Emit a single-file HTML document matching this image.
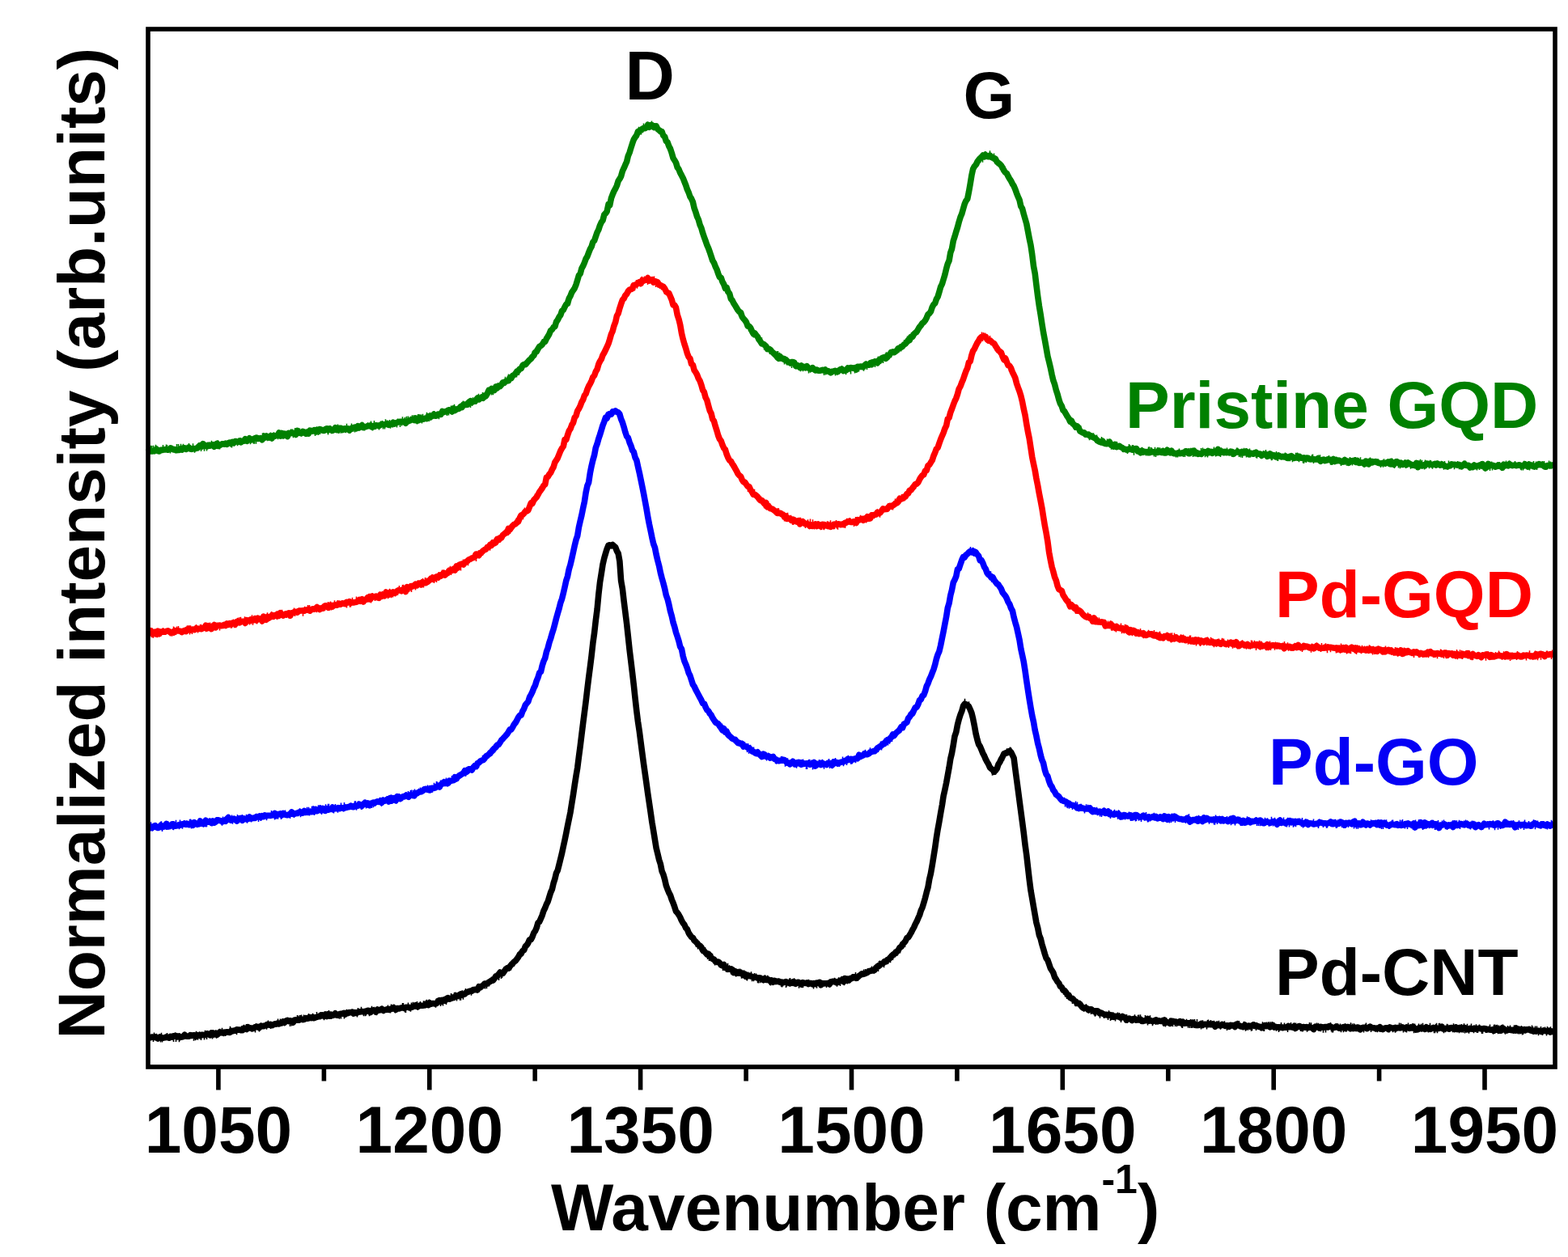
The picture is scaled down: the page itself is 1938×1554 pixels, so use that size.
<!DOCTYPE html>
<html><head><meta charset="utf-8"><title>Raman spectra</title>
<style>
html,body{margin:0;padding:0;background:#fff;}
svg{display:block;}
.t{font-family:"Liberation Sans",Arial,sans-serif;font-weight:bold;font-size:82px;}
</style></head><body>
<svg width="1938" height="1554" viewBox="0 0 1938 1554">
<rect x="0" y="0" width="1938" height="1554" fill="#fff"/>
<path d="M183.0,1282.6 184.7,1283.0 186.5,1282.5 188.2,1282.0 190.0,1282.4 191.7,1281.9 193.4,1282.9 195.2,1284.0 196.9,1282.4 198.7,1282.2 200.4,1283.2 202.1,1283.1 203.9,1282.8 205.6,1281.9 207.4,1282.6 209.1,1283.2 210.8,1281.3 212.6,1282.1 214.3,1280.7 216.1,1281.2 217.8,1280.6 219.5,1281.9 221.3,1280.9 223.0,1282.2 224.8,1282.0 226.5,1281.6 228.2,1279.3 230.0,1281.0 231.7,1281.3 233.5,1281.3 235.2,1279.7 236.9,1280.5 238.7,1279.9 240.4,1279.9 242.2,1281.4 243.9,1279.5 245.6,1280.1 247.4,1280.7 249.1,1279.2 250.9,1279.4 252.6,1279.5 254.3,1279.2 256.1,1277.9 257.8,1278.8 259.6,1279.8 261.3,1276.9 263.0,1278.9 264.8,1278.0 266.5,1277.1 268.3,1279.2 270.0,1277.9 271.7,1275.9 273.5,1276.8 275.2,1277.0 277.0,1276.1 278.7,1276.6 280.4,1275.7 282.2,1276.1 283.9,1276.5 285.7,1274.3 287.4,1274.9 289.1,1274.0 290.9,1274.3 292.6,1272.8 294.4,1273.1 296.1,1273.1 297.8,1273.8 299.6,1273.8 301.3,1271.3 303.1,1271.5 304.8,1272.5 306.5,1269.8 308.3,1270.9 310.0,1270.9 311.8,1271.9 313.5,1271.1 315.2,1269.8 317.0,1269.5 318.7,1269.3 320.5,1270.6 322.2,1268.6 323.9,1268.4 325.7,1268.7 327.4,1267.9 329.2,1267.6 330.9,1266.4 332.6,1267.1 334.4,1266.4 336.1,1267.6 337.9,1266.8 339.6,1265.9 341.3,1266.2 343.1,1265.0 344.8,1266.0 346.6,1264.7 348.3,1264.9 350.0,1262.9 351.8,1264.1 353.5,1262.0 355.3,1261.4 357.0,1262.6 358.7,1261.8 360.5,1262.5 362.2,1264.0 364.0,1261.0 365.7,1260.9 367.4,1261.3 369.2,1261.3 370.9,1260.4 372.7,1260.1 374.4,1260.6 376.1,1260.2 377.9,1258.5 379.6,1259.1 381.4,1258.9 383.1,1257.7 384.8,1258.6 386.6,1257.3 388.3,1258.7 390.1,1257.8 391.8,1257.4 393.5,1256.6 395.3,1256.7 397.0,1254.8 398.8,1255.3 400.5,1256.4 402.2,1254.0 404.0,1256.4 405.7,1253.8 407.5,1255.9 409.2,1254.2 410.9,1255.5 412.7,1254.7 414.4,1252.9 416.2,1255.2 417.9,1255.2 419.6,1253.7 421.4,1253.3 423.1,1253.2 424.9,1252.3 426.6,1254.0 428.3,1252.3 430.1,1252.6 431.8,1251.7 433.6,1251.7 435.3,1251.0 437.0,1253.1 438.8,1251.7 440.5,1252.5 442.3,1251.5 444.0,1250.7 445.7,1250.9 447.5,1250.5 449.2,1250.9 451.0,1250.4 452.7,1250.3 454.4,1249.2 456.2,1249.5 457.9,1251.6 459.7,1249.3 461.4,1248.9 463.1,1249.9 464.9,1250.8 466.6,1248.0 468.4,1249.0 470.1,1248.5 471.8,1247.3 473.6,1249.4 475.3,1248.5 477.1,1248.4 478.8,1247.5 480.5,1248.4 482.3,1247.4 484.0,1247.5 485.8,1246.5 487.5,1246.2 489.2,1248.3 491.0,1246.5 492.7,1247.0 494.5,1246.5 496.2,1245.9 497.9,1245.7 499.7,1246.5 501.4,1245.4 503.2,1245.3 504.9,1245.2 506.6,1246.0 508.4,1245.3 510.1,1244.8 511.9,1243.7 513.6,1242.7 515.3,1244.5 517.1,1244.3 518.8,1243.0 520.6,1243.3 522.3,1243.2 524.0,1243.0 525.8,1242.7 527.5,1241.2 529.3,1242.6 531.0,1239.8 532.7,1241.3 534.5,1240.6 536.2,1240.6 538.0,1241.1 539.7,1240.4 541.4,1237.6 543.2,1236.7 544.9,1238.5 546.7,1236.4 548.4,1236.9 550.1,1237.2 551.9,1234.5 553.6,1233.6 555.4,1235.2 557.1,1234.5 558.8,1233.7 560.6,1233.4 562.3,1232.1 564.1,1230.9 565.8,1231.6 567.5,1230.2 569.3,1229.0 571.0,1230.3 572.8,1229.2 574.5,1228.9 576.2,1227.0 578.0,1226.6 579.7,1225.6 581.5,1225.0 583.2,1225.2 584.9,1223.6 586.7,1223.8 588.4,1223.0 590.2,1223.7 591.9,1219.8 593.6,1220.9 595.4,1219.2 597.1,1218.3 598.9,1216.1 600.6,1216.0 602.3,1216.1 604.1,1214.3 605.8,1213.4 607.6,1212.0 609.3,1212.2 611.0,1210.0 612.8,1206.8 614.5,1206.9 616.3,1204.5 618.0,1202.1 619.7,1203.2 621.5,1203.5 623.2,1200.9 625.0,1198.3 626.7,1196.9 628.4,1197.2 630.2,1194.7 631.9,1192.8 633.7,1190.9 635.4,1189.1 637.1,1187.9 638.9,1185.6 640.6,1183.2 642.4,1179.9 644.1,1179.0 645.8,1175.6 647.6,1174.7 649.3,1170.1 651.1,1168.4 652.8,1165.8 654.5,1161.7 656.3,1161.5 658.0,1158.2 659.8,1153.2 661.5,1151.0 663.2,1147.1 665.0,1140.8 666.7,1139.6 668.5,1135.4 670.2,1131.4 671.9,1126.1 673.7,1122.5 675.4,1118.0 677.2,1114.5 678.9,1108.8 680.6,1103.4 682.4,1099.4 684.1,1092.0 685.9,1086.4 687.6,1079.2 689.3,1075.9 691.1,1068.8 692.8,1061.9 694.6,1054.5 696.3,1046.5 698.0,1038.7 699.8,1030.0 701.5,1021.3 703.3,1012.4 705.0,1004.2 706.7,993.4 708.5,982.3 710.2,970.9 712.0,959.3 713.7,949.3 715.4,935.7 717.2,922.2 718.9,908.3 720.7,893.8 722.4,880.6 724.1,867.2 725.9,851.9 727.6,838.0 729.4,824.2 731.1,810.7 732.8,795.3 734.6,782.4 736.3,767.2 738.1,753.3 739.8,735.1 741.5,720.2 743.3,708.9 745.0,697.9 746.8,690.0 748.5,684.1 750.2,678.6 752.0,674.2 753.7,673.8 755.5,674.8 757.2,673.4 758.9,675.0 760.7,676.6 762.4,681.1 764.2,684.4 765.9,694.0 767.6,717.9 769.4,728.1 771.1,743.0 772.9,757.3 774.6,770.9 776.3,786.5 778.1,803.4 779.8,817.2 781.6,832.3 783.3,846.8 785.0,862.9 786.8,878.7 788.5,892.3 790.3,904.2 792.0,917.4 793.7,930.6 795.5,943.9 797.2,955.9 799.0,968.6 800.7,980.9 802.4,992.5 804.2,1004.8 805.9,1016.6 807.7,1027.3 809.4,1037.9 811.1,1048.3 812.9,1055.6 814.6,1062.9 816.4,1068.4 818.1,1076.9 819.8,1080.9 821.6,1087.1 823.3,1094.6 825.1,1099.5 826.8,1103.6 828.5,1106.8 830.3,1112.3 832.0,1116.2 833.8,1121.3 835.5,1126.6 837.2,1128.4 839.0,1131.0 840.7,1134.0 842.5,1138.2 844.2,1141.1 845.9,1143.2 847.7,1147.2 849.4,1148.8 851.2,1153.5 852.9,1156.0 854.6,1158.4 856.4,1159.4 858.1,1162.6 859.9,1164.2 861.6,1166.0 863.3,1168.1 865.1,1169.2 866.8,1171.0 868.6,1174.8 870.3,1175.7 872.0,1177.7 873.8,1180.0 875.5,1179.1 877.3,1181.5 879.0,1183.8 880.7,1185.4 882.5,1186.0 884.2,1188.6 886.0,1189.1 887.7,1189.0 889.4,1190.4 891.2,1193.0 892.9,1193.8 894.7,1192.6 896.4,1196.5 898.1,1196.8 899.9,1198.3 901.6,1197.6 903.4,1198.5 905.1,1198.6 906.8,1202.6 908.6,1200.9 910.3,1203.2 912.1,1201.8 913.8,1203.2 915.5,1202.2 917.3,1203.9 919.0,1205.7 920.8,1204.3 922.5,1206.9 924.2,1206.7 926.0,1206.0 927.7,1206.9 929.5,1207.4 931.2,1208.2 932.9,1208.2 934.7,1208.3 936.4,1209.2 938.2,1208.9 939.9,1209.0 941.6,1210.5 943.4,1211.7 945.1,1209.8 946.9,1211.5 948.6,1211.2 950.3,1211.2 952.1,1213.1 953.8,1212.1 955.6,1214.2 957.3,1212.4 959.0,1213.6 960.8,1213.3 962.5,1213.0 964.3,1214.4 966.0,1214.0 967.7,1214.8 969.5,1214.4 971.2,1213.6 973.0,1214.7 974.7,1215.0 976.4,1215.9 978.2,1214.4 979.9,1215.3 981.7,1213.9 983.4,1216.2 985.1,1214.7 986.9,1214.2 988.6,1215.8 990.4,1217.0 992.1,1214.7 993.8,1215.1 995.6,1215.5 997.3,1215.2 999.1,1216.6 1000.8,1215.5 1002.5,1215.6 1004.3,1216.8 1006.0,1215.6 1007.8,1216.6 1009.5,1215.3 1011.2,1215.1 1013.0,1214.4 1014.7,1217.7 1016.5,1215.6 1018.2,1216.0 1019.9,1215.7 1021.7,1215.7 1023.4,1215.4 1025.2,1216.9 1026.9,1214.1 1028.6,1213.4 1030.4,1213.7 1032.1,1213.2 1033.9,1214.8 1035.6,1214.6 1037.3,1212.7 1039.1,1212.0 1040.8,1212.5 1042.6,1213.7 1044.3,1209.6 1046.0,1212.2 1047.8,1210.3 1049.5,1211.7 1051.3,1209.3 1053.0,1209.6 1054.7,1207.9 1056.5,1207.8 1058.2,1209.4 1060.0,1208.2 1061.7,1206.5 1063.4,1205.4 1065.2,1203.8 1066.9,1204.4 1068.7,1203.9 1070.4,1203.1 1072.1,1202.3 1073.9,1200.5 1075.6,1200.5 1077.4,1199.6 1079.1,1199.9 1080.8,1199.4 1082.6,1196.6 1084.3,1195.0 1086.1,1194.5 1087.8,1192.9 1089.5,1191.6 1091.3,1191.0 1093.0,1188.8 1094.8,1189.0 1096.5,1187.0 1098.2,1186.0 1100.0,1184.1 1101.7,1182.1 1103.5,1180.4 1105.2,1179.4 1106.9,1177.4 1108.7,1176.4 1110.4,1174.3 1112.2,1171.2 1113.9,1170.5 1115.6,1167.1 1117.4,1165.5 1119.1,1163.5 1120.9,1159.5 1122.6,1158.8 1124.3,1156.2 1126.1,1153.0 1127.8,1149.7 1129.6,1146.5 1131.3,1142.5 1133.0,1139.4 1134.8,1135.2 1136.5,1131.5 1138.3,1125.7 1140.0,1122.0 1141.7,1116.4 1143.5,1110.2 1145.2,1103.3 1147.0,1096.9 1148.7,1086.8 1150.4,1079.8 1152.2,1069.7 1153.9,1059.1 1155.7,1047.9 1157.4,1035.7 1159.1,1025.2 1160.9,1015.5 1162.6,1005.3 1164.4,995.3 1166.1,984.2 1167.8,976.7 1169.6,968.0 1171.3,958.6 1173.1,948.8 1174.8,938.0 1176.5,931.0 1178.3,920.9 1180.0,910.2 1181.8,905.0 1183.5,896.0 1185.2,889.4 1187.0,883.7 1188.7,879.4 1190.5,872.9 1192.2,870.3 1193.9,870.7 1195.7,871.9 1197.4,873.3 1199.2,877.3 1200.9,881.5 1202.6,888.4 1204.4,897.5 1206.1,907.0 1207.9,914.4 1209.6,920.3 1211.3,922.7 1213.1,927.0 1214.8,931.2 1216.6,934.6 1218.3,938.7 1220.0,941.8 1221.8,944.9 1223.5,948.8 1225.3,950.4 1227.0,951.7 1228.7,954.3 1230.5,952.6 1232.2,950.3 1234.0,944.9 1235.7,942.4 1237.4,938.7 1239.2,935.5 1240.9,931.7 1242.7,931.3 1244.4,930.8 1246.1,929.3 1247.9,928.3 1249.6,929.9 1251.4,933.7 1253.1,937.1 1254.8,950.6 1256.6,963.9 1258.3,976.7 1260.1,990.6 1261.8,1003.3 1263.5,1016.1 1265.3,1029.8 1267.0,1044.2 1268.8,1057.3 1270.5,1072.2 1272.2,1087.0 1274.0,1100.9 1275.7,1110.6 1277.5,1121.1 1279.2,1130.8 1280.9,1140.5 1282.7,1147.3 1284.4,1156.0 1286.2,1160.5 1287.9,1167.5 1289.6,1173.2 1291.4,1179.4 1293.1,1184.6 1294.9,1186.9 1296.6,1191.8 1298.3,1196.9 1300.1,1199.8 1301.8,1202.5 1303.6,1208.1 1305.3,1210.7 1307.0,1213.6 1308.8,1215.5 1310.5,1219.4 1312.3,1220.7 1314.0,1224.2 1315.7,1224.5 1317.5,1226.6 1319.2,1229.4 1321.0,1230.4 1322.7,1233.3 1324.4,1234.5 1326.2,1234.9 1327.9,1237.2 1329.7,1238.1 1331.4,1240.4 1333.1,1240.2 1334.9,1241.5 1336.6,1244.0 1338.4,1245.9 1340.1,1246.6 1341.8,1245.7 1343.6,1246.7 1345.3,1248.6 1347.1,1247.9 1348.8,1247.8 1350.5,1249.5 1352.3,1250.4 1354.0,1249.9 1355.8,1249.7 1357.5,1250.4 1359.2,1252.9 1361.0,1252.1 1362.7,1253.1 1364.5,1253.9 1366.2,1254.7 1367.9,1254.2 1369.7,1255.4 1371.4,1254.5 1373.2,1255.3 1374.9,1255.1 1376.6,1257.3 1378.4,1256.6 1380.1,1256.3 1381.9,1256.9 1383.6,1257.3 1385.3,1258.4 1387.1,1256.6 1388.8,1257.3 1390.6,1258.1 1392.3,1261.0 1394.0,1259.8 1395.8,1259.0 1397.5,1260.0 1399.3,1261.4 1401.0,1259.5 1402.7,1259.6 1404.5,1261.2 1406.2,1260.7 1408.0,1261.0 1409.7,1260.1 1411.4,1262.5 1413.2,1262.4 1414.9,1261.6 1416.7,1261.8 1418.4,1259.6 1420.1,1262.1 1421.9,1261.5 1423.6,1262.2 1425.4,1262.6 1427.1,1261.8 1428.8,1260.8 1430.6,1262.8 1432.3,1261.9 1434.1,1262.4 1435.8,1262.3 1437.5,1262.7 1439.3,1261.1 1441.0,1264.4 1442.8,1263.6 1444.5,1264.5 1446.2,1265.4 1448.0,1263.8 1449.7,1262.3 1451.5,1263.2 1453.2,1263.1 1454.9,1263.8 1456.7,1264.5 1458.4,1262.7 1460.2,1265.0 1461.9,1263.4 1463.6,1265.2 1465.4,1264.9 1467.1,1264.8 1468.9,1265.2 1470.6,1264.8 1472.3,1264.9 1474.1,1264.0 1475.8,1265.6 1477.6,1267.4 1479.3,1267.6 1481.0,1267.1 1482.8,1266.7 1484.5,1265.5 1486.3,1267.5 1488.0,1266.3 1489.7,1266.4 1491.5,1266.3 1493.2,1266.7 1495.0,1266.3 1496.7,1266.7 1498.4,1265.9 1500.2,1266.6 1501.9,1269.1 1503.7,1267.1 1505.4,1267.0 1507.1,1267.8 1508.9,1268.0 1510.6,1266.4 1512.4,1267.3 1514.1,1268.4 1515.8,1267.9 1517.6,1267.8 1519.3,1269.2 1521.1,1267.3 1522.8,1268.0 1524.5,1267.5 1526.3,1269.4 1528.0,1266.4 1529.8,1267.6 1531.5,1267.8 1533.2,1268.9 1535.0,1268.9 1536.7,1269.7 1538.5,1267.1 1540.2,1269.2 1541.9,1268.4 1543.7,1268.1 1545.4,1269.2 1547.2,1268.0 1548.9,1267.0 1550.6,1268.5 1552.4,1267.6 1554.1,1268.4 1555.9,1269.4 1557.6,1269.4 1559.3,1270.5 1561.1,1269.0 1562.8,1267.8 1564.6,1268.6 1566.3,1268.5 1568.0,1268.2 1569.8,1269.8 1571.5,1268.8 1573.3,1267.7 1575.0,1270.1 1576.7,1269.4 1578.5,1269.9 1580.2,1269.7 1582.0,1270.2 1583.7,1269.7 1585.4,1270.8 1587.2,1270.1 1588.9,1270.1 1590.7,1270.2 1592.4,1268.5 1594.1,1269.7 1595.9,1269.6 1597.6,1270.1 1599.4,1268.7 1601.1,1271.4 1602.8,1270.1 1604.6,1268.9 1606.3,1268.5 1608.1,1269.8 1609.8,1270.0 1611.5,1269.5 1613.3,1270.2 1615.0,1269.6 1616.8,1270.7 1618.5,1269.5 1620.2,1270.2 1622.0,1271.1 1623.7,1272.5 1625.5,1269.3 1627.2,1269.8 1628.9,1269.5 1630.7,1271.0 1632.4,1269.3 1634.2,1269.9 1635.9,1270.3 1637.6,1269.5 1639.4,1269.5 1641.1,1270.0 1642.9,1268.5 1644.6,1269.1 1646.3,1270.0 1648.1,1270.6 1649.8,1270.3 1651.6,1268.9 1653.3,1270.0 1655.0,1271.2 1656.8,1271.0 1658.5,1270.4 1660.3,1269.7 1662.0,1271.1 1663.7,1270.0 1665.5,1269.5 1667.2,1269.8 1669.0,1271.8 1670.7,1270.8 1672.4,1271.6 1674.2,1270.1 1675.9,1271.4 1677.7,1270.0 1679.4,1270.4 1681.1,1272.8 1682.9,1271.3 1684.6,1270.2 1686.4,1270.5 1688.1,1270.9 1689.8,1271.7 1691.6,1270.2 1693.3,1269.1 1695.1,1270.4 1696.8,1270.7 1698.5,1270.8 1700.3,1271.8 1702.0,1271.0 1703.8,1271.4 1705.5,1269.7 1707.2,1271.5 1709.0,1272.6 1710.7,1271.4 1712.5,1270.9 1714.2,1270.8 1715.9,1272.3 1717.7,1269.9 1719.4,1270.6 1721.2,1271.1 1722.9,1271.4 1724.6,1270.4 1726.4,1271.0 1728.1,1270.5 1729.9,1270.9 1731.6,1270.7 1733.3,1269.8 1735.1,1270.8 1736.8,1271.6 1738.6,1269.9 1740.3,1270.6 1742.0,1271.4 1743.8,1269.9 1745.5,1271.0 1747.3,1269.9 1749.0,1271.9 1750.7,1273.0 1752.5,1272.7 1754.2,1270.7 1756.0,1271.6 1757.7,1271.0 1759.4,1271.0 1761.2,1272.3 1762.9,1269.8 1764.7,1271.9 1766.4,1270.9 1768.1,1272.3 1769.9,1271.2 1771.6,1270.4 1773.4,1271.3 1775.1,1271.7 1776.8,1271.1 1778.6,1271.5 1780.3,1270.6 1782.1,1269.2 1783.8,1272.0 1785.5,1271.8 1787.3,1271.3 1789.0,1271.3 1790.8,1272.2 1792.5,1270.8 1794.2,1270.6 1796.0,1271.1 1797.7,1272.4 1799.5,1270.1 1801.2,1272.5 1802.9,1270.8 1804.7,1270.4 1806.4,1272.6 1808.2,1271.4 1809.9,1270.3 1811.6,1271.2 1813.4,1272.4 1815.1,1272.7 1816.9,1271.3 1818.6,1272.0 1820.3,1272.3 1822.1,1271.2 1823.8,1272.1 1825.6,1271.8 1827.3,1271.4 1829.0,1271.4 1830.8,1272.0 1832.5,1272.0 1834.3,1271.5 1836.0,1271.7 1837.7,1273.1 1839.5,1272.3 1841.2,1273.0 1843.0,1273.3 1844.7,1272.8 1846.4,1274.3 1848.2,1271.6 1849.9,1273.1 1851.7,1272.2 1853.4,1274.2 1855.1,1274.1 1856.9,1270.8 1858.6,1271.8 1860.4,1273.3 1862.1,1273.5 1863.8,1273.5 1865.6,1272.8 1867.3,1273.4 1869.1,1273.6 1870.8,1273.0 1872.5,1274.1 1874.3,1271.2 1876.0,1273.8 1877.8,1272.4 1879.5,1274.2 1881.2,1273.2 1883.0,1272.7 1884.7,1273.9 1886.5,1272.8 1888.2,1272.9 1889.9,1272.4 1891.7,1273.9 1893.4,1274.4 1895.2,1275.0 1896.9,1274.0 1898.6,1275.1 1900.4,1274.3 1902.1,1274.3 1903.9,1275.0 1905.6,1275.5 1907.3,1274.3 1909.1,1274.5 1910.8,1274.6 1912.6,1275.0 1914.3,1274.2 1916.0,1276.0 1917.8,1274.8 1919.5,1275.7 1921.3,1274.6" fill="none" stroke="#000000" stroke-width="7.6" stroke-linejoin="round"/>
<path d="M189.5,1282.8L189.5,1287.9M190.5,1282.8L190.5,1276.6M193.5,1282.8L193.5,1277.7M197.5,1282.8L197.5,1278.0M198.5,1282.8L198.5,1288.4M199.5,1282.8L199.5,1276.8M200.5,1282.8L200.5,1288.4M206.5,1282.7L206.5,1276.9M214.5,1282.4L214.5,1288.1M216.5,1282.3L216.5,1276.2M217.5,1282.3L217.5,1288.1M221.5,1282.0L221.5,1288.2M222.5,1282.0L222.5,1286.6M236.5,1281.0L236.5,1276.1M239.5,1280.7L239.5,1286.8M241.5,1280.5L241.5,1286.2M242.5,1280.4L242.5,1274.7M244.5,1280.2L244.5,1285.7M246.5,1280.0L246.5,1275.2M248.5,1279.8L248.5,1285.9M252.5,1279.4L252.5,1285.4M253.5,1279.3L253.5,1273.7M255.5,1279.0L255.5,1285.0M256.5,1278.9L256.5,1274.0M259.5,1278.5L259.5,1283.3M262.5,1278.2L262.5,1284.5M263.5,1278.0L263.5,1272.9M264.5,1277.9L264.5,1283.3M266.5,1277.7L266.5,1282.5M267.5,1277.5L267.5,1283.7M268.5,1277.4L268.5,1282.7M271.5,1277.0L271.5,1271.7M274.5,1276.6L274.5,1270.7M276.5,1276.3L276.5,1281.3M278.5,1276.0L278.5,1281.1M284.5,1275.1L284.5,1268.8M292.5,1273.9L292.5,1279.3M298.5,1272.9L298.5,1268.3M300.5,1272.6L300.5,1267.8M301.5,1272.4L301.5,1266.7M304.5,1271.9L304.5,1265.9M315.5,1270.1L315.5,1276.5M316.5,1269.9L316.5,1264.9M320.5,1269.2L320.5,1275.6M322.5,1268.9L322.5,1264.2M328.5,1267.8L328.5,1263.2M329.5,1267.7L329.5,1272.7M331.5,1267.3L331.5,1261.5M334.5,1266.8L334.5,1272.0M337.5,1266.3L337.5,1271.3M343.5,1265.2L343.5,1259.6M346.5,1264.7L346.5,1259.5M351.5,1263.8L351.5,1268.5M355.5,1263.2L355.5,1257.9M358.5,1262.7L358.5,1269.0M360.5,1262.3L360.5,1268.6M362.5,1262.0L362.5,1266.8M364.5,1261.6L364.5,1266.2M367.5,1261.1L367.5,1255.1M368.5,1261.0L368.5,1255.8M370.5,1260.6L370.5,1254.9M371.5,1260.5L371.5,1254.9M372.5,1260.3L372.5,1254.6M375.5,1259.8L375.5,1254.4M380.5,1259.0L380.5,1254.4M381.5,1258.9L381.5,1253.0M386.5,1258.1L386.5,1252.7M391.5,1257.4L391.5,1251.0M398.5,1256.4L398.5,1251.0M400.5,1256.1L400.5,1261.2M406.5,1255.3L406.5,1249.0M407.5,1255.2L407.5,1260.1M409.5,1254.9L409.5,1259.9M418.5,1253.9L418.5,1259.0M419.5,1253.7L419.5,1259.8M421.5,1253.5L421.5,1259.4M425.5,1253.1L425.5,1259.5M428.5,1252.8L428.5,1247.7M431.5,1252.5L431.5,1247.8M441.5,1251.6L441.5,1257.4M442.5,1251.5L442.5,1246.0M446.5,1251.1L446.5,1244.8M449.5,1250.8L449.5,1256.2M451.5,1250.7L451.5,1256.3M452.5,1250.6L452.5,1255.6M456.5,1250.2L456.5,1256.3M459.5,1250.0L459.5,1243.7M462.5,1249.7L462.5,1244.8M463.5,1249.6L463.5,1254.9M465.5,1249.4L465.5,1255.2M474.5,1248.6L474.5,1253.3M479.5,1248.1L479.5,1242.5M482.5,1247.8L482.5,1252.4M483.5,1247.7L483.5,1241.4M484.5,1247.6L484.5,1242.0M486.5,1247.4L486.5,1241.6M487.5,1247.3L487.5,1241.8M488.5,1247.2L488.5,1252.6M497.5,1246.2L497.5,1239.9M498.5,1246.0L498.5,1239.9M500.5,1245.8L500.5,1251.4M501.5,1245.7L501.5,1252.0M504.5,1245.3L504.5,1239.5M507.5,1244.9L507.5,1250.8M508.5,1244.7L508.5,1239.4M510.5,1244.4L510.5,1238.8M515.5,1243.7L515.5,1237.9M516.5,1243.5L516.5,1249.0M519.5,1243.0L519.5,1237.9M523.5,1242.3L523.5,1237.3M524.5,1242.1L524.5,1237.5M526.5,1241.8L526.5,1236.6M527.5,1241.6L527.5,1235.7M530.5,1241.0L530.5,1235.4M538.5,1239.3L538.5,1245.7M539.5,1239.1L539.5,1234.4M541.5,1238.6L541.5,1233.7M544.5,1237.9L544.5,1244.1M547.5,1237.1L547.5,1243.4M548.5,1236.9L548.5,1232.1M550.5,1236.3L550.5,1231.6M551.5,1236.1L551.5,1242.1M553.5,1235.5L553.5,1230.6M557.5,1234.3L557.5,1228.0M558.5,1234.0L558.5,1228.7M561.5,1233.1L561.5,1226.9M562.5,1232.8L562.5,1226.4M563.5,1232.5L563.5,1227.0M564.5,1232.1L564.5,1237.6M568.5,1230.8L568.5,1236.8M569.5,1230.4L569.5,1236.8M570.5,1230.1L570.5,1224.7M571.5,1229.7L571.5,1224.3M572.5,1229.3L572.5,1235.7M575.5,1228.2L575.5,1222.0M582.5,1225.3L582.5,1230.8M589.5,1222.2L589.5,1227.8M590.5,1221.7L590.5,1227.5M591.5,1221.2L591.5,1216.3M599.5,1217.0L599.5,1222.6M601.5,1215.9L601.5,1222.2M604.5,1214.1L604.5,1219.4M607.5,1212.3L607.5,1207.5M613.5,1208.3L613.5,1202.6M616.5,1206.1L616.5,1212.1M617.5,1205.4L617.5,1200.0M619.5,1203.8L619.5,1209.9M620.5,1203.1L620.5,1209.0M628.5,1196.1L628.5,1201.0M630.5,1194.2L630.5,1189.2M631.5,1193.2L631.5,1199.5M635.5,1189.0L635.5,1194.8M640.5,1183.2L640.5,1176.9M641.5,1181.9L641.5,1175.8M645.5,1176.7L645.5,1182.6M646.5,1175.3L646.5,1169.9M648.5,1172.4L648.5,1166.5M650.5,1169.4L650.5,1174.9M659.5,1154.1L659.5,1159.6M661.5,1150.3L661.5,1156.3M662.5,1148.3L662.5,1153.1M664.5,1144.2L664.5,1149.9M670.5,1130.6L670.5,1136.2M671.5,1128.2L671.5,1134.1M673.5,1123.2L673.5,1128.6M676.5,1115.2L676.5,1121.2M680.5,1103.8L680.5,1098.9M682.5,1097.7L682.5,1102.7M685.5,1088.0L685.5,1092.9M688.5,1077.6L688.5,1083.3M692.5,1062.4L692.5,1056.9M697.5,1041.0L697.5,1036.3M699.5,1031.5L699.5,1036.5M702.5,1016.4L702.5,1022.1M703.5,1011.1L703.5,1005.1M705.5,1000.0L705.5,994.0M708.5,982.3L708.5,976.6M709.5,976.0L709.5,981.3M711.5,963.0L711.5,957.7M713.5,949.3L713.5,954.9M715.5,934.8L715.5,941.1M718.5,912.0L718.5,917.9M723.5,871.7L723.5,878.0M724.5,863.5L724.5,869.3M727.5,839.2L727.5,844.2M728.5,831.2L728.5,836.9M738.5,748.4L738.5,754.6M740.5,728.9L740.5,723.0M742.5,712.6L742.5,706.8M744.5,700.8L744.5,706.0M751.5,675.9L751.5,671.1M752.5,674.4L752.5,679.0M774.5,769.8L774.5,764.5M775.5,778.5L775.5,773.4M782.5,841.1L782.5,836.0M783.5,849.8L783.5,843.5M787.5,883.2L787.5,876.9M789.5,899.1L789.5,904.4M792.5,921.9L792.5,917.3M796.5,951.0L796.5,956.3M800.5,979.2L800.5,974.5M801.5,986.2L801.5,991.3M803.5,1000.1L803.5,995.3M804.5,1007.0L804.5,1013.2M805.5,1013.7L805.5,1007.3M810.5,1043.4L810.5,1049.6M816.5,1070.5L816.5,1075.9M827.5,1105.6L827.5,1111.9M831.5,1115.6L831.5,1110.6M832.5,1117.9L832.5,1112.9M835.5,1124.6L835.5,1119.5M837.5,1128.7L837.5,1133.4M843.5,1140.1L843.5,1144.8M846.5,1145.2L846.5,1139.9M847.5,1146.8L847.5,1141.8M851.5,1153.0L851.5,1158.7M852.5,1154.5L852.5,1160.6M860.5,1165.1L860.5,1171.0M862.5,1167.5L862.5,1173.5M863.5,1168.6L863.5,1163.1M866.5,1171.9L866.5,1166.9M867.5,1173.0L867.5,1179.0M868.5,1174.0L868.5,1167.9M871.5,1177.0L871.5,1171.1M874.5,1179.8L874.5,1186.1M876.5,1181.6L876.5,1187.9M877.5,1182.4L877.5,1187.6M879.5,1184.1L879.5,1177.9M880.5,1184.9L880.5,1179.0M883.5,1187.1L883.5,1193.4M885.5,1188.6L885.5,1193.3M893.5,1193.7L893.5,1199.9M895.5,1194.8L895.5,1190.0M897.5,1195.9L897.5,1201.7M898.5,1196.4L898.5,1201.9M899.5,1196.9L899.5,1190.8M901.5,1197.9L901.5,1193.3M903.5,1198.8L903.5,1204.6M904.5,1199.3L904.5,1194.1M905.5,1199.7L905.5,1205.4M907.5,1200.6L907.5,1205.8M909.5,1201.4L909.5,1207.5M912.5,1202.6L912.5,1197.8M914.5,1203.3L914.5,1197.6M916.5,1204.0L916.5,1209.8M919.5,1205.0L919.5,1199.2M920.5,1205.3L920.5,1211.0M922.5,1205.9L922.5,1211.8M923.5,1206.2L923.5,1212.6M924.5,1206.5L924.5,1201.6M928.5,1207.6L928.5,1201.3M929.5,1207.8L929.5,1213.2M931.5,1208.3L931.5,1213.3M932.5,1208.6L932.5,1203.1M934.5,1209.0L934.5,1203.4M936.5,1209.5L936.5,1215.3M937.5,1209.7L937.5,1215.5M939.5,1210.1L939.5,1215.3M945.5,1211.3L945.5,1205.3M948.5,1211.8L948.5,1205.7M949.5,1211.9L949.5,1206.6M951.5,1212.2L951.5,1217.9M952.5,1212.4L952.5,1218.4M953.5,1212.5L953.5,1207.9M965.5,1214.0L965.5,1219.7M966.5,1214.2L966.5,1220.5M967.5,1214.3L967.5,1219.4M971.5,1214.6L971.5,1220.9M972.5,1214.7L972.5,1219.6M975.5,1215.0L975.5,1209.8M976.5,1215.1L976.5,1209.1M979.5,1215.3L979.5,1210.0M980.5,1215.4L980.5,1210.0M981.5,1215.5L981.5,1209.2M987.5,1215.8L987.5,1221.7M991.5,1216.0L991.5,1221.2M992.5,1216.1L992.5,1220.9M997.5,1216.2L997.5,1211.1M999.5,1216.2L999.5,1210.8M1005.5,1216.3L1005.5,1222.6M1008.5,1216.2L1008.5,1211.5M1009.5,1216.2L1009.5,1221.8M1021.5,1215.6L1021.5,1220.9M1025.5,1215.2L1025.5,1210.4M1026.5,1215.1L1026.5,1210.3M1029.5,1214.7L1029.5,1209.8M1031.5,1214.5L1031.5,1208.8M1034.5,1214.0L1034.5,1219.7M1036.5,1213.7L1036.5,1208.2M1038.5,1213.3L1038.5,1219.0M1039.5,1213.1L1039.5,1207.5M1040.5,1212.9L1040.5,1206.7M1041.5,1212.7L1041.5,1207.0M1043.5,1212.3L1043.5,1218.3M1047.5,1211.3L1047.5,1216.4M1049.5,1210.8L1049.5,1215.6M1050.5,1210.5L1050.5,1215.2M1053.5,1209.7L1053.5,1203.9M1057.5,1208.4L1057.5,1202.0M1060.5,1207.3L1060.5,1212.8M1067.5,1204.5L1067.5,1198.5M1069.5,1203.6L1069.5,1198.0M1077.5,1199.6L1077.5,1194.5M1080.5,1197.9L1080.5,1203.8M1083.5,1196.2L1083.5,1191.4M1084.5,1195.5L1084.5,1190.3M1085.5,1194.9L1085.5,1201.1M1086.5,1194.3L1086.5,1187.9M1087.5,1193.6L1087.5,1187.6M1092.5,1190.2L1092.5,1196.3M1093.5,1189.4L1093.5,1184.8M1095.5,1187.9L1095.5,1183.1M1097.5,1186.3L1097.5,1192.1M1100.5,1183.8L1100.5,1190.2M1101.5,1183.0L1101.5,1188.0M1103.5,1181.2L1103.5,1187.0M1104.5,1180.3L1104.5,1185.1M1105.5,1179.3L1105.5,1173.7M1106.5,1178.4L1106.5,1183.4M1108.5,1176.3L1108.5,1182.1M1109.5,1175.3L1109.5,1181.3M1112.5,1172.0L1112.5,1178.4M1116.5,1167.2L1116.5,1172.3M1117.5,1165.9L1117.5,1160.9M1118.5,1164.6L1118.5,1170.9M1123.5,1157.4L1123.5,1162.2M1125.5,1154.1L1125.5,1148.5M1128.5,1148.8L1128.5,1155.1M1133.5,1138.6L1133.5,1143.8M1137.5,1128.8L1137.5,1122.8M1138.5,1126.1L1138.5,1119.7M1144.5,1106.5L1144.5,1111.6M1146.5,1098.4L1146.5,1104.3M1148.5,1089.3L1148.5,1095.3M1149.5,1084.3L1149.5,1089.4M1155.5,1048.6L1155.5,1043.5M1156.5,1042.1L1156.5,1046.9M1159.5,1023.2L1159.5,1017.8M1165.5,988.8L1165.5,983.9M1168.5,972.6L1168.5,968.0M1170.5,962.0L1170.5,957.1M1176.5,930.3L1176.5,935.5M1177.5,925.1L1177.5,919.6M1178.5,919.9L1178.5,913.6M1181.5,905.8L1181.5,912.0M1182.5,901.5L1182.5,906.3M1191.5,871.1L1191.5,866.5M1192.5,869.7L1192.5,863.7M1195.5,870.2L1195.5,876.6M1197.5,873.5L1197.5,867.3M1200.5,881.4L1200.5,875.7M1201.5,884.7L1201.5,890.5M1202.5,888.5L1202.5,883.6M1203.5,892.7L1203.5,898.7M1205.5,903.3L1205.5,908.8M1206.5,908.6L1206.5,913.7M1212.5,925.8L1212.5,919.6M1215.5,931.9L1215.5,926.8M1217.5,936.0L1217.5,930.7M1218.5,938.1L1218.5,931.9M1219.5,940.3L1219.5,934.4M1226.5,952.7L1226.5,958.7M1230.5,952.6L1230.5,957.8M1232.5,949.5L1232.5,954.2M1236.5,941.1L1236.5,934.7M1237.5,939.1L1237.5,943.8M1240.5,934.3L1240.5,940.5M1242.5,931.8L1242.5,927.0M1244.5,930.0L1244.5,925.2M1248.5,929.0L1248.5,923.5M1249.5,929.8L1249.5,924.3M1250.5,931.2L1250.5,936.9M1251.5,933.4L1251.5,938.2M1252.5,936.8L1252.5,930.8M1253.5,941.7L1253.5,947.7M1262.5,1007.7L1262.5,1013.9M1264.5,1023.4L1264.5,1028.7M1266.5,1039.3L1266.5,1034.6M1268.5,1055.7L1268.5,1049.5M1270.5,1072.2L1270.5,1066.6M1273.5,1095.7L1273.5,1100.6M1275.5,1109.3L1275.5,1103.9M1276.5,1115.5L1276.5,1120.6M1277.5,1121.4L1277.5,1116.7M1278.5,1126.9L1278.5,1132.6M1280.5,1137.2L1280.5,1131.6M1281.5,1142.0L1281.5,1147.3M1282.5,1146.5L1282.5,1151.8M1290.5,1176.1L1290.5,1171.1M1296.5,1192.3L1296.5,1186.3M1297.5,1194.7L1297.5,1189.4M1300.5,1201.2L1300.5,1194.9M1301.5,1203.3L1301.5,1197.0M1302.5,1205.2L1302.5,1210.6M1304.5,1208.9L1304.5,1203.0M1307.5,1213.9L1307.5,1209.3M1309.5,1217.0L1309.5,1222.2M1312.5,1221.3L1312.5,1226.4M1314.5,1223.8L1314.5,1229.8M1316.5,1226.2L1316.5,1232.4M1318.5,1228.5L1318.5,1234.9M1319.5,1229.5L1319.5,1234.7M1322.5,1232.5L1322.5,1227.0M1325.5,1235.2L1325.5,1240.9M1326.5,1236.0L1326.5,1230.8M1328.5,1237.5L1328.5,1243.5M1329.5,1238.3L1329.5,1244.2M1334.5,1241.6L1334.5,1236.8M1335.5,1242.2L1335.5,1247.7M1336.5,1242.8L1336.5,1237.9M1339.5,1244.5L1339.5,1250.8M1342.5,1246.0L1342.5,1241.2M1345.5,1247.3L1345.5,1252.8M1348.5,1248.6L1348.5,1254.1M1352.5,1250.1L1352.5,1255.5M1353.5,1250.4L1353.5,1256.7M1354.5,1250.8L1354.5,1255.7M1357.5,1251.7L1357.5,1246.5M1359.5,1252.3L1359.5,1258.7M1364.5,1253.7L1364.5,1259.1M1369.5,1254.9L1369.5,1261.1M1370.5,1255.1L1370.5,1249.2M1371.5,1255.3L1371.5,1250.7M1372.5,1255.5L1372.5,1261.9M1373.5,1255.7L1373.5,1261.1M1374.5,1255.9L1374.5,1260.8M1378.5,1256.7L1378.5,1262.6M1381.5,1257.2L1381.5,1251.5M1383.5,1257.5L1383.5,1251.9M1385.5,1257.8L1385.5,1264.1M1387.5,1258.1L1387.5,1252.8M1390.5,1258.5L1390.5,1264.3M1392.5,1258.7L1392.5,1254.0M1393.5,1258.8L1393.5,1265.0M1397.5,1259.3L1397.5,1264.6M1398.5,1259.4L1398.5,1264.5M1402.5,1259.9L1402.5,1254.2M1403.5,1260.0L1403.5,1264.7M1406.5,1260.3L1406.5,1254.8M1407.5,1260.4L1407.5,1254.6M1409.5,1260.6L1409.5,1254.3M1415.5,1261.1L1415.5,1255.1M1418.5,1261.4L1418.5,1267.4M1419.5,1261.5L1419.5,1256.7M1420.5,1261.6L1420.5,1256.4M1421.5,1261.7L1421.5,1255.3M1424.5,1261.9L1424.5,1268.2M1428.5,1262.3L1428.5,1267.0M1436.5,1262.9L1436.5,1257.8M1437.5,1263.0L1437.5,1268.2M1438.5,1263.1L1438.5,1268.9M1440.5,1263.2L1440.5,1269.6M1441.5,1263.3L1441.5,1258.1M1445.5,1263.6L1445.5,1258.7M1446.5,1263.7L1446.5,1258.5M1447.5,1263.8L1447.5,1258.2M1449.5,1263.9L1449.5,1269.2M1452.5,1264.1L1452.5,1269.0M1454.5,1264.3L1454.5,1269.3M1460.5,1264.7L1460.5,1270.5M1461.5,1264.7L1461.5,1271.1M1466.5,1265.1L1466.5,1259.7M1468.5,1265.2L1468.5,1270.8M1470.5,1265.3L1470.5,1270.9M1471.5,1265.4L1471.5,1260.1M1472.5,1265.4L1472.5,1271.0M1473.5,1265.5L1473.5,1271.0M1475.5,1265.6L1475.5,1270.8M1476.5,1265.7L1476.5,1260.1M1479.5,1265.9L1479.5,1259.9M1481.5,1266.0L1481.5,1271.2M1482.5,1266.0L1482.5,1271.1M1484.5,1266.1L1484.5,1272.4M1486.5,1266.3L1486.5,1261.3M1491.5,1266.5L1491.5,1272.5M1492.5,1266.6L1492.5,1261.1M1493.5,1266.6L1493.5,1260.5M1495.5,1266.7L1495.5,1262.1M1496.5,1266.8L1496.5,1260.9M1500.5,1267.0L1500.5,1261.7M1501.5,1267.0L1501.5,1272.6M1503.5,1267.1L1503.5,1262.5M1504.5,1267.2L1504.5,1262.3M1506.5,1267.3L1506.5,1261.7M1508.5,1267.3L1508.5,1272.7M1513.5,1267.6L1513.5,1262.3M1516.5,1267.7L1516.5,1274.0M1527.5,1268.1L1527.5,1263.3M1528.5,1268.2L1528.5,1262.5M1529.5,1268.2L1529.5,1261.8M1530.5,1268.2L1530.5,1262.2M1531.5,1268.3L1531.5,1262.0M1537.5,1268.5L1537.5,1262.7M1539.5,1268.5L1539.5,1274.8M1540.5,1268.6L1540.5,1273.8M1542.5,1268.6L1542.5,1273.7M1546.5,1268.8L1546.5,1274.7M1547.5,1268.8L1547.5,1274.3M1549.5,1268.8L1549.5,1263.2M1550.5,1268.9L1550.5,1263.2M1552.5,1268.9L1552.5,1274.1M1558.5,1269.1L1558.5,1274.6M1560.5,1269.1L1560.5,1263.3M1561.5,1269.2L1561.5,1274.7M1562.5,1269.2L1562.5,1275.1M1563.5,1269.2L1563.5,1263.8M1564.5,1269.2L1564.5,1264.6M1565.5,1269.3L1565.5,1263.4M1567.5,1269.3L1567.5,1263.5M1568.5,1269.3L1568.5,1263.2M1570.5,1269.4L1570.5,1263.3M1572.5,1269.4L1572.5,1263.0M1574.5,1269.5L1574.5,1263.8M1577.5,1269.5L1577.5,1274.7M1580.5,1269.6L1580.5,1275.9M1581.5,1269.6L1581.5,1274.6M1583.5,1269.7L1583.5,1264.0M1587.5,1269.7L1587.5,1264.4M1591.5,1269.8L1591.5,1276.0M1595.5,1269.9L1595.5,1264.0M1599.5,1269.9L1599.5,1264.3M1601.5,1270.0L1601.5,1264.4M1605.5,1270.0L1605.5,1265.3M1607.5,1270.0L1607.5,1275.0M1608.5,1270.1L1608.5,1274.7M1609.5,1270.1L1609.5,1275.5M1610.5,1270.1L1610.5,1275.2M1615.5,1270.1L1615.5,1275.8M1618.5,1270.2L1618.5,1264.0M1620.5,1270.2L1620.5,1264.2M1625.5,1270.3L1625.5,1265.6M1627.5,1270.3L1627.5,1264.4M1629.5,1270.3L1629.5,1264.8M1632.5,1270.3L1632.5,1275.3M1635.5,1270.3L1635.5,1276.7M1638.5,1270.4L1638.5,1276.4M1644.5,1270.4L1644.5,1264.1M1645.5,1270.4L1645.5,1275.2M1646.5,1270.4L1646.5,1276.6M1647.5,1270.4L1647.5,1276.4M1653.5,1270.5L1653.5,1265.2M1656.5,1270.5L1656.5,1265.4M1657.5,1270.5L1657.5,1276.3M1660.5,1270.5L1660.5,1276.3M1662.5,1270.5L1662.5,1264.9M1663.5,1270.5L1663.5,1275.7M1664.5,1270.5L1664.5,1275.2M1669.5,1270.5L1669.5,1264.2M1671.5,1270.6L1671.5,1265.4M1673.5,1270.6L1673.5,1265.3M1677.5,1270.6L1677.5,1275.3M1679.5,1270.6L1679.5,1275.2M1682.5,1270.6L1682.5,1275.8M1685.5,1270.6L1685.5,1276.6M1687.5,1270.6L1687.5,1265.8M1688.5,1270.6L1688.5,1264.6M1694.5,1270.6L1694.5,1275.9M1700.5,1270.7L1700.5,1275.6M1702.5,1270.7L1702.5,1276.2M1705.5,1270.7L1705.5,1276.1M1707.5,1270.7L1707.5,1276.0M1708.5,1270.7L1708.5,1275.4M1715.5,1270.7L1715.5,1275.4M1716.5,1270.7L1716.5,1276.5M1717.5,1270.7L1717.5,1276.2M1721.5,1270.7L1721.5,1276.2M1724.5,1270.7L1724.5,1276.8M1725.5,1270.8L1725.5,1275.7M1729.5,1270.8L1729.5,1264.5M1731.5,1270.8L1731.5,1264.7M1734.5,1270.8L1734.5,1276.4M1737.5,1270.8L1737.5,1275.7M1738.5,1270.8L1738.5,1276.5M1740.5,1270.8L1740.5,1264.5M1745.5,1270.8L1745.5,1265.5M1746.5,1270.9L1746.5,1265.1M1747.5,1270.9L1747.5,1277.2M1748.5,1270.9L1748.5,1265.4M1749.5,1270.9L1749.5,1277.1M1753.5,1270.9L1753.5,1265.4M1756.5,1270.9L1756.5,1265.7M1757.5,1270.9L1757.5,1275.7M1758.5,1270.9L1758.5,1264.8M1761.5,1270.9L1761.5,1275.8M1765.5,1271.0L1765.5,1276.5M1767.5,1271.0L1767.5,1264.7M1772.5,1271.0L1772.5,1277.2M1773.5,1271.0L1773.5,1277.2M1774.5,1271.1L1774.5,1266.1M1775.5,1271.1L1775.5,1264.8M1776.5,1271.1L1776.5,1277.2M1778.5,1271.1L1778.5,1265.0M1779.5,1271.1L1779.5,1264.8M1784.5,1271.2L1784.5,1277.2M1786.5,1271.2L1786.5,1276.2M1788.5,1271.2L1788.5,1265.8M1789.5,1271.2L1789.5,1266.5M1795.5,1271.3L1795.5,1276.2M1796.5,1271.3L1796.5,1265.2M1797.5,1271.3L1797.5,1266.7M1799.5,1271.4L1799.5,1266.2M1800.5,1271.4L1800.5,1276.0M1803.5,1271.4L1803.5,1277.3M1806.5,1271.5L1806.5,1266.0M1808.5,1271.5L1808.5,1276.7M1809.5,1271.5L1809.5,1265.3M1810.5,1271.5L1810.5,1277.4M1811.5,1271.5L1811.5,1276.2M1812.5,1271.6L1812.5,1276.7M1813.5,1271.6L1813.5,1265.7M1815.5,1271.6L1815.5,1277.8M1818.5,1271.7L1818.5,1265.6M1821.5,1271.7L1821.5,1277.2M1824.5,1271.8L1824.5,1266.3M1825.5,1271.8L1825.5,1277.0M1826.5,1271.8L1826.5,1276.9M1828.5,1271.9L1828.5,1266.6M1831.5,1271.9L1831.5,1278.0M1832.5,1272.0L1832.5,1278.1M1836.5,1272.1L1836.5,1277.0M1841.5,1272.2L1841.5,1266.4M1845.5,1272.3L1845.5,1278.5M1846.5,1272.3L1846.5,1266.8M1847.5,1272.3L1847.5,1266.5M1848.5,1272.4L1848.5,1277.1M1849.5,1272.4L1849.5,1267.0M1850.5,1272.4L1850.5,1266.8M1851.5,1272.4L1851.5,1278.3M1852.5,1272.5L1852.5,1267.5M1856.5,1272.6L1856.5,1267.7M1857.5,1272.6L1857.5,1266.5M1859.5,1272.7L1859.5,1277.6M1860.5,1272.7L1860.5,1278.8M1862.5,1272.8L1862.5,1278.0M1863.5,1272.8L1863.5,1267.9M1866.5,1272.9L1866.5,1267.4M1870.5,1273.1L1870.5,1278.1M1871.5,1273.1L1871.5,1267.3M1873.5,1273.2L1873.5,1266.9M1876.5,1273.3L1876.5,1278.5M1878.5,1273.3L1878.5,1278.4M1880.5,1273.4L1880.5,1268.1M1881.5,1273.5L1881.5,1279.5M1882.5,1273.5L1882.5,1279.0M1884.5,1273.6L1884.5,1268.8M1893.5,1274.0L1893.5,1267.6M1894.5,1274.0L1894.5,1269.0M1895.5,1274.1L1895.5,1278.9M1897.5,1274.1L1897.5,1268.6M1899.5,1274.2L1899.5,1268.5M1901.5,1274.3L1901.5,1280.3M1904.5,1274.5L1904.5,1269.1M1906.5,1274.6L1906.5,1280.0M1907.5,1274.6L1907.5,1270.0M1909.5,1274.7L1909.5,1269.6M1911.5,1274.8L1911.5,1280.5M1912.5,1274.9L1912.5,1268.9M1916.5,1275.1L1916.5,1269.3" fill="none" stroke="#000000" stroke-width="1.6"/>
<path d="M183.0,1024.6 184.7,1023.9 186.5,1022.1 188.2,1023.5 190.0,1021.6 191.7,1020.7 193.4,1022.7 195.2,1023.5 196.9,1022.7 198.7,1020.3 200.4,1022.5 202.1,1022.1 203.9,1020.8 205.6,1018.4 207.4,1022.1 209.1,1021.8 210.8,1021.2 212.6,1018.7 214.3,1018.8 216.1,1021.3 217.8,1021.0 219.5,1020.5 221.3,1019.5 223.0,1020.1 224.8,1018.9 226.5,1019.0 228.2,1018.2 230.0,1019.3 231.7,1018.4 233.5,1019.7 235.2,1019.3 236.9,1017.5 238.7,1020.2 240.4,1016.8 242.2,1018.4 243.9,1018.9 245.6,1019.0 247.4,1015.0 249.1,1018.3 250.9,1018.4 252.6,1018.5 254.3,1014.3 256.1,1015.8 257.8,1016.3 259.6,1015.7 261.3,1017.5 263.0,1015.1 264.8,1017.1 266.5,1016.2 268.3,1013.8 270.0,1014.1 271.7,1014.5 273.5,1014.9 275.2,1015.7 277.0,1014.3 278.7,1015.3 280.4,1012.4 282.2,1010.6 283.9,1013.4 285.7,1014.1 287.4,1013.0 289.1,1012.1 290.9,1013.5 292.6,1015.0 294.4,1012.5 296.1,1011.7 297.8,1011.4 299.6,1014.3 301.3,1011.9 303.1,1012.4 304.8,1012.9 306.5,1012.5 308.3,1010.1 310.0,1012.0 311.8,1011.7 313.5,1011.1 315.2,1011.5 317.0,1009.6 318.7,1009.9 320.5,1009.2 322.2,1010.5 323.9,1008.7 325.7,1009.7 327.4,1007.8 329.2,1008.7 330.9,1008.3 332.6,1008.3 334.4,1008.4 336.1,1007.9 337.9,1007.6 339.6,1005.4 341.3,1008.7 343.1,1006.6 344.8,1006.8 346.6,1006.0 348.3,1007.8 350.0,1005.5 351.8,1006.9 353.5,1007.4 355.3,1007.7 357.0,1007.0 358.7,1006.2 360.5,1004.0 362.2,1006.5 364.0,1006.2 365.7,1005.6 367.4,1005.4 369.2,1004.4 370.9,1003.6 372.7,1005.1 374.4,1005.1 376.1,1002.4 377.9,1004.3 379.6,1003.4 381.4,1003.9 383.1,1003.0 384.8,1003.8 386.6,1003.5 388.3,1003.1 390.1,1000.4 391.8,1002.6 393.5,1001.6 395.3,1000.1 397.0,1001.9 398.8,999.5 400.5,1001.7 402.2,1002.4 404.0,999.8 405.7,1001.2 407.5,1000.5 409.2,1000.5 410.9,998.1 412.7,1000.0 414.4,999.3 416.2,999.7 417.9,998.7 419.6,999.7 421.4,998.6 423.1,998.8 424.9,999.4 426.6,997.9 428.3,998.5 430.1,997.5 431.8,997.6 433.6,996.2 435.3,997.4 437.0,997.7 438.8,996.0 440.5,996.7 442.3,996.1 444.0,994.2 445.7,995.5 447.5,996.3 449.2,994.1 451.0,992.4 452.7,994.3 454.4,993.1 456.2,995.6 457.9,993.2 459.7,993.0 461.4,992.0 463.1,992.7 464.9,991.5 466.6,990.8 468.4,991.4 470.1,990.3 471.8,992.3 473.6,989.3 475.3,990.2 477.1,989.2 478.8,988.1 480.5,991.0 482.3,986.6 484.0,990.1 485.8,986.6 487.5,987.9 489.2,989.8 491.0,984.7 492.7,985.1 494.5,987.6 496.2,986.0 497.9,984.8 499.7,984.9 501.4,983.5 503.2,984.2 504.9,985.2 506.6,982.8 508.4,982.8 510.1,983.5 511.9,983.9 513.6,980.6 515.3,981.0 517.1,979.6 518.8,979.0 520.6,978.7 522.3,977.9 524.0,976.2 525.8,975.3 527.5,976.1 529.3,976.4 531.0,977.0 532.7,974.5 534.5,974.2 536.2,974.5 538.0,973.9 539.7,972.3 541.4,971.6 543.2,973.0 544.9,969.9 546.7,969.0 548.4,967.0 550.1,968.5 551.9,966.9 553.6,968.5 555.4,965.2 557.1,965.6 558.8,964.9 560.6,964.8 562.3,960.7 564.1,962.9 565.8,960.3 567.5,959.2 569.3,958.0 571.0,956.9 572.8,955.9 574.5,952.7 576.2,954.7 578.0,953.1 579.7,950.9 581.5,950.7 583.2,952.0 584.9,948.7 586.7,946.7 588.4,947.6 590.2,943.6 591.9,943.0 593.6,941.1 595.4,940.1 597.1,939.6 598.9,938.0 600.6,935.0 602.3,934.1 604.1,932.7 605.8,930.5 607.6,929.2 609.3,926.8 611.0,925.0 612.8,924.0 614.5,920.9 616.3,920.6 618.0,917.9 619.7,915.1 621.5,913.4 623.2,911.4 625.0,909.6 626.7,907.6 628.4,905.0 630.2,901.9 631.9,901.9 633.7,898.9 635.4,895.5 637.1,893.7 638.9,890.4 640.6,887.0 642.4,884.5 644.1,884.3 645.8,879.4 647.6,876.3 649.3,871.6 651.1,869.3 652.8,867.5 654.5,862.0 656.3,858.9 658.0,855.3 659.8,850.6 661.5,847.4 663.2,841.7 665.0,837.5 666.7,831.7 668.5,830.4 670.2,822.9 671.9,817.5 673.7,813.6 675.4,806.1 677.2,801.0 678.9,794.4 680.6,789.4 682.4,783.0 684.1,777.9 685.9,771.0 687.6,764.3 689.3,758.3 691.1,752.1 692.8,745.2 694.6,740.2 696.3,733.3 698.0,726.0 699.8,717.7 701.5,712.6 703.3,703.6 705.0,698.0 706.7,690.6 708.5,682.5 710.2,674.8 712.0,667.3 713.7,662.4 715.4,652.0 717.2,644.0 718.9,637.0 720.7,628.1 722.4,620.2 724.1,609.1 725.9,600.5 727.6,596.5 729.4,584.5 731.1,576.1 732.8,568.9 734.6,562.6 736.3,553.5 738.1,548.7 739.8,542.4 741.5,537.5 743.3,531.7 745.0,525.9 746.8,521.3 748.5,516.1 750.2,517.0 752.0,512.2 753.7,511.5 755.5,512.2 757.2,508.9 758.9,509.2 760.7,508.0 762.4,509.3 764.2,509.9 765.9,511.9 767.6,518.0 769.4,522.3 771.1,527.8 772.9,534.4 774.6,539.4 776.3,541.2 778.1,546.9 779.8,550.9 781.6,556.7 783.3,558.7 785.0,565.4 786.8,568.9 788.5,576.8 790.3,584.6 792.0,592.8 793.7,601.0 795.5,610.1 797.2,619.1 799.0,628.8 800.7,638.8 802.4,647.8 804.2,656.2 805.9,664.6 807.7,672.5 809.4,676.8 811.1,685.5 812.9,693.1 814.6,699.6 816.4,708.3 818.1,714.8 819.8,720.7 821.6,727.7 823.3,735.7 825.1,740.7 826.8,747.5 828.5,755.5 830.3,761.8 832.0,769.5 833.8,775.1 835.5,781.9 837.2,786.9 839.0,792.6 840.7,799.6 842.5,802.5 844.2,811.3 845.9,817.2 847.7,821.4 849.4,826.0 851.2,832.0 852.9,835.3 854.6,840.7 856.4,846.2 858.1,848.6 859.9,852.6 861.6,855.8 863.3,859.0 865.1,862.4 866.8,865.4 868.6,869.6 870.3,869.7 872.0,874.0 873.8,877.7 875.5,878.7 877.3,882.1 879.0,883.9 880.7,887.4 882.5,890.1 884.2,892.9 886.0,894.0 887.7,894.8 889.4,897.7 891.2,900.0 892.9,902.7 894.7,900.7 896.4,905.0 898.1,904.3 899.9,908.5 901.6,909.8 903.4,911.3 905.1,913.1 906.8,913.9 908.6,914.2 910.3,916.5 912.1,918.6 913.8,918.4 915.5,919.7 917.3,919.5 919.0,923.0 920.8,922.3 922.5,923.1 924.2,924.3 926.0,924.9 927.7,926.4 929.5,928.9 931.2,929.2 932.9,930.7 934.7,931.6 936.4,929.9 938.2,932.0 939.9,933.8 941.6,935.4 943.4,932.2 945.1,932.8 946.9,935.4 948.6,935.2 950.3,935.1 952.1,937.1 953.8,936.4 955.6,935.4 957.3,938.3 959.0,938.9 960.8,939.9 962.5,940.7 964.3,940.3 966.0,940.3 967.7,940.2 969.5,939.6 971.2,941.2 973.0,943.1 974.7,943.0 976.4,944.8 978.2,942.8 979.9,941.3 981.7,944.3 983.4,944.8 985.1,942.7 986.9,942.4 988.6,944.4 990.4,945.2 992.1,943.4 993.8,944.4 995.6,944.0 997.3,943.7 999.1,943.7 1000.8,945.2 1002.5,944.8 1004.3,944.5 1006.0,942.5 1007.8,947.0 1009.5,944.2 1011.2,945.0 1013.0,943.9 1014.7,945.4 1016.5,943.4 1018.2,944.9 1019.9,944.5 1021.7,945.5 1023.4,943.3 1025.2,943.5 1026.9,943.8 1028.6,946.0 1030.4,942.0 1032.1,943.6 1033.9,942.4 1035.6,943.1 1037.3,943.2 1039.1,942.3 1040.8,942.1 1042.6,941.7 1044.3,940.4 1046.0,940.4 1047.8,938.4 1049.5,939.3 1051.3,938.4 1053.0,938.5 1054.7,939.0 1056.5,938.0 1058.2,937.6 1060.0,937.6 1061.7,933.3 1063.4,935.6 1065.2,934.5 1066.9,933.7 1068.7,931.7 1070.4,932.8 1072.1,932.7 1073.9,931.7 1075.6,929.7 1077.4,929.5 1079.1,928.9 1080.8,928.8 1082.6,927.2 1084.3,925.0 1086.1,923.8 1087.8,922.8 1089.5,921.6 1091.3,919.7 1093.0,919.7 1094.8,916.8 1096.5,915.4 1098.2,915.2 1100.0,912.7 1101.7,911.5 1103.5,908.0 1105.2,909.4 1106.9,906.9 1108.7,905.0 1110.4,903.8 1112.2,901.6 1113.9,898.7 1115.6,899.6 1117.4,894.9 1119.1,894.2 1120.9,892.9 1122.6,888.0 1124.3,886.3 1126.1,882.9 1127.8,882.3 1129.6,878.2 1131.3,874.6 1133.0,874.2 1134.8,870.8 1136.5,865.8 1138.3,864.7 1140.0,860.3 1141.7,859.4 1143.5,854.7 1145.2,848.5 1147.0,844.8 1148.7,839.9 1150.4,836.6 1152.2,831.8 1153.9,827.6 1155.7,821.7 1157.4,814.5 1159.1,809.3 1160.9,805.2 1162.6,798.0 1164.4,789.0 1166.1,780.7 1167.8,771.7 1169.6,762.6 1171.3,751.6 1173.1,745.6 1174.8,735.9 1176.5,729.4 1178.3,720.0 1180.0,716.9 1181.8,712.5 1183.5,703.7 1185.2,703.0 1187.0,697.6 1188.7,692.6 1190.5,688.7 1192.2,689.1 1193.9,686.2 1195.7,684.9 1197.4,682.8 1199.2,681.5 1200.9,682.9 1202.6,681.2 1204.4,684.1 1206.1,682.8 1207.9,685.5 1209.6,687.4 1211.3,692.9 1213.1,692.6 1214.8,696.1 1216.6,701.0 1218.3,703.4 1220.0,708.3 1221.8,710.5 1223.5,711.8 1225.3,714.2 1227.0,713.7 1228.7,716.8 1230.5,719.5 1232.2,721.8 1234.0,722.7 1235.7,725.4 1237.4,727.9 1239.2,732.5 1240.9,734.6 1242.7,736.8 1244.4,740.1 1246.1,744.3 1247.9,747.1 1249.6,751.9 1251.4,755.1 1253.1,763.0 1254.8,769.3 1256.6,775.4 1258.3,783.1 1260.1,791.4 1261.8,802.2 1263.5,809.8 1265.3,818.3 1267.0,829.2 1268.8,841.9 1270.5,853.3 1272.2,864.1 1274.0,875.0 1275.7,884.7 1277.5,892.7 1279.2,902.6 1280.9,909.9 1282.7,919.1 1284.4,925.3 1286.2,933.6 1287.9,939.6 1289.6,943.6 1291.4,952.0 1293.1,957.2 1294.9,959.7 1296.6,965.7 1298.3,970.2 1300.1,972.6 1301.8,976.8 1303.6,978.9 1305.3,982.2 1307.0,983.5 1308.8,985.0 1310.5,987.4 1312.3,989.2 1314.0,990.0 1315.7,990.5 1317.5,991.1 1319.2,992.5 1321.0,993.1 1322.7,994.6 1324.4,995.3 1326.2,995.6 1327.9,996.3 1329.7,997.0 1331.4,999.0 1333.1,999.1 1334.9,997.8 1336.6,999.3 1338.4,999.0 1340.1,999.7 1341.8,1000.0 1343.6,1000.0 1345.3,999.6 1347.1,998.9 1348.8,1002.1 1350.5,1003.5 1352.3,1001.7 1354.0,1003.5 1355.8,1002.9 1357.5,1004.0 1359.2,1003.1 1361.0,1004.1 1362.7,1004.5 1364.5,1002.4 1366.2,1005.4 1367.9,1005.3 1369.7,1003.1 1371.4,1006.7 1373.2,1006.2 1374.9,1006.7 1376.6,1007.1 1378.4,1006.4 1380.1,1006.0 1381.9,1006.8 1383.6,1007.0 1385.3,1010.0 1387.1,1009.8 1388.8,1007.5 1390.6,1007.8 1392.3,1008.7 1394.0,1009.1 1395.8,1008.0 1397.5,1007.8 1399.3,1011.0 1401.0,1010.2 1402.7,1007.6 1404.5,1007.5 1406.2,1008.6 1408.0,1009.8 1409.7,1010.3 1411.4,1009.5 1413.2,1008.2 1414.9,1010.3 1416.7,1010.8 1418.4,1010.2 1420.1,1009.8 1421.9,1011.0 1423.6,1010.4 1425.4,1009.4 1427.1,1010.8 1428.8,1009.4 1430.6,1011.9 1432.3,1011.4 1434.1,1009.9 1435.8,1011.3 1437.5,1012.5 1439.3,1008.9 1441.0,1011.1 1442.8,1013.1 1444.5,1009.8 1446.2,1011.3 1448.0,1010.1 1449.7,1011.6 1451.5,1009.2 1453.2,1010.1 1454.9,1011.3 1456.7,1012.1 1458.4,1012.5 1460.2,1012.6 1461.9,1013.4 1463.6,1013.0 1465.4,1013.1 1467.1,1011.4 1468.9,1012.3 1470.6,1016.0 1472.3,1015.1 1474.1,1013.6 1475.8,1013.6 1477.6,1013.9 1479.3,1012.5 1481.0,1015.1 1482.8,1012.6 1484.5,1013.0 1486.3,1015.5 1488.0,1011.0 1489.7,1013.7 1491.5,1011.5 1493.2,1012.7 1495.0,1013.4 1496.7,1013.2 1498.4,1013.8 1500.2,1012.9 1501.9,1013.7 1503.7,1012.6 1505.4,1013.5 1507.1,1012.5 1508.9,1014.7 1510.6,1012.7 1512.4,1014.9 1514.1,1013.8 1515.8,1013.9 1517.6,1015.6 1519.3,1014.5 1521.1,1012.4 1522.8,1015.1 1524.5,1011.4 1526.3,1014.9 1528.0,1014.3 1529.8,1013.2 1531.5,1014.9 1533.2,1014.5 1535.0,1017.1 1536.7,1014.5 1538.5,1017.2 1540.2,1016.6 1541.9,1014.5 1543.7,1014.3 1545.4,1016.7 1547.2,1015.2 1548.9,1015.6 1550.6,1015.2 1552.4,1014.2 1554.1,1015.1 1555.9,1014.6 1557.6,1014.0 1559.3,1015.4 1561.1,1017.7 1562.8,1017.6 1564.6,1015.8 1566.3,1016.1 1568.0,1016.5 1569.8,1017.5 1571.5,1016.4 1573.3,1015.6 1575.0,1015.7 1576.7,1017.5 1578.5,1019.1 1580.2,1015.6 1582.0,1014.1 1583.7,1017.3 1585.4,1016.4 1587.2,1016.7 1588.9,1017.9 1590.7,1016.7 1592.4,1015.2 1594.1,1014.5 1595.9,1016.7 1597.6,1015.5 1599.4,1017.1 1601.1,1015.5 1602.8,1016.5 1604.6,1015.3 1606.3,1016.6 1608.1,1016.6 1609.8,1017.7 1611.5,1018.6 1613.3,1017.0 1615.0,1016.3 1616.8,1019.4 1618.5,1017.7 1620.2,1018.0 1622.0,1018.0 1623.7,1019.0 1625.5,1018.6 1627.2,1018.2 1628.9,1018.4 1630.7,1016.6 1632.4,1016.9 1634.2,1017.5 1635.9,1017.8 1637.6,1017.7 1639.4,1018.1 1641.1,1017.8 1642.9,1017.4 1644.6,1016.1 1646.3,1018.8 1648.1,1018.6 1649.8,1017.0 1651.6,1018.6 1653.3,1018.5 1655.0,1018.2 1656.8,1016.1 1658.5,1016.8 1660.3,1017.5 1662.0,1020.0 1663.7,1017.3 1665.5,1017.9 1667.2,1017.1 1669.0,1017.8 1670.7,1018.7 1672.4,1016.1 1674.2,1015.3 1675.9,1019.2 1677.7,1018.5 1679.4,1017.9 1681.1,1019.6 1682.9,1019.6 1684.6,1016.3 1686.4,1018.5 1688.1,1019.9 1689.8,1018.0 1691.6,1018.4 1693.3,1019.8 1695.1,1018.5 1696.8,1017.5 1698.5,1018.1 1700.3,1017.4 1702.0,1019.5 1703.8,1017.0 1705.5,1020.0 1707.2,1017.1 1709.0,1019.0 1710.7,1017.4 1712.5,1018.7 1714.2,1020.2 1715.9,1020.3 1717.7,1020.5 1719.4,1019.0 1721.2,1019.2 1722.9,1019.4 1724.6,1019.8 1726.4,1018.7 1728.1,1020.4 1729.9,1019.6 1731.6,1020.5 1733.3,1019.8 1735.1,1020.0 1736.8,1018.5 1738.6,1018.9 1740.3,1017.9 1742.0,1019.0 1743.8,1019.2 1745.5,1020.3 1747.3,1018.0 1749.0,1023.0 1750.7,1019.3 1752.5,1020.8 1754.2,1020.6 1756.0,1016.7 1757.7,1019.2 1759.4,1021.1 1761.2,1016.9 1762.9,1020.4 1764.7,1018.5 1766.4,1019.1 1768.1,1019.8 1769.9,1017.5 1771.6,1019.8 1773.4,1018.9 1775.1,1018.8 1776.8,1020.4 1778.6,1023.5 1780.3,1020.0 1782.1,1020.3 1783.8,1019.6 1785.5,1018.9 1787.3,1020.0 1789.0,1021.4 1790.8,1019.9 1792.5,1020.7 1794.2,1019.5 1796.0,1022.5 1797.7,1017.9 1799.5,1020.4 1801.2,1020.4 1802.9,1020.1 1804.7,1018.5 1806.4,1018.5 1808.2,1019.5 1809.9,1019.9 1811.6,1018.5 1813.4,1018.6 1815.1,1020.4 1816.9,1020.9 1818.6,1019.2 1820.3,1019.0 1822.1,1019.0 1823.8,1022.5 1825.6,1020.4 1827.3,1019.7 1829.0,1020.9 1830.8,1022.4 1832.5,1021.1 1834.3,1018.3 1836.0,1019.7 1837.7,1019.4 1839.5,1019.4 1841.2,1018.5 1843.0,1019.4 1844.7,1018.6 1846.4,1020.2 1848.2,1019.9 1849.9,1018.3 1851.7,1017.9 1853.4,1019.3 1855.1,1020.5 1856.9,1020.4 1858.6,1019.7 1860.4,1016.2 1862.1,1019.3 1863.8,1019.0 1865.6,1019.4 1867.3,1018.4 1869.1,1019.3 1870.8,1019.0 1872.5,1022.8 1874.3,1020.5 1876.0,1019.5 1877.8,1019.7 1879.5,1019.6 1881.2,1019.9 1883.0,1019.3 1884.7,1019.7 1886.5,1020.8 1888.2,1020.6 1889.9,1020.0 1891.7,1021.2 1893.4,1019.9 1895.2,1018.6 1896.9,1017.7 1898.6,1018.9 1900.4,1019.6 1902.1,1020.1 1903.9,1020.8 1905.6,1019.0 1907.3,1018.7 1909.1,1020.4 1910.8,1020.9 1912.6,1019.0 1914.3,1019.9 1916.0,1021.0 1917.8,1019.9 1919.5,1019.4 1921.3,1017.2" fill="none" stroke="#0000ff" stroke-width="7.6" stroke-linejoin="round"/>
<path d="M183.5,1022.8L183.5,1017.5M185.5,1022.7L185.5,1027.5M186.5,1022.6L186.5,1016.3M188.5,1022.5L188.5,1027.4M198.5,1021.7L198.5,1015.8M199.5,1021.6L199.5,1015.2M200.5,1021.5L200.5,1027.9M205.5,1021.1L205.5,1025.9M207.5,1021.0L207.5,1014.9M213.5,1020.5L213.5,1025.8M214.5,1020.4L214.5,1026.3M217.5,1020.1L217.5,1013.8M221.5,1019.8L221.5,1025.2M222.5,1019.7L222.5,1013.4M225.5,1019.4L225.5,1024.8M227.5,1019.2L227.5,1013.9M230.5,1019.0L230.5,1014.3M234.5,1018.6L234.5,1012.7M235.5,1018.5L235.5,1012.4M236.5,1018.4L236.5,1024.5M237.5,1018.3L237.5,1023.5M243.5,1017.8L243.5,1023.3M245.5,1017.6L245.5,1012.9M251.5,1017.0L251.5,1022.7M254.5,1016.7L254.5,1022.4M255.5,1016.6L255.5,1022.3M258.5,1016.3L258.5,1011.6M259.5,1016.2L259.5,1011.2M262.5,1015.9L262.5,1021.2M264.5,1015.7L264.5,1021.0M267.5,1015.4L267.5,1010.2M270.5,1015.1L270.5,1010.3M273.5,1014.8L273.5,1019.6M274.5,1014.7L274.5,1020.8M275.5,1014.6L275.5,1009.4M279.5,1014.2L279.5,1018.9M286.5,1013.5L286.5,1007.5M287.5,1013.4L287.5,1018.8M293.5,1012.7L293.5,1007.0M295.5,1012.5L295.5,1017.5M298.5,1012.2L298.5,1017.2M299.5,1012.1L299.5,1007.0M304.5,1011.6L304.5,1006.7M305.5,1011.5L305.5,1017.8M308.5,1011.1L308.5,1006.4M310.5,1010.9L310.5,1016.6M319.5,1009.9L319.5,1016.1M320.5,1009.8L320.5,1004.9M322.5,1009.6L322.5,1015.0M329.5,1008.8L329.5,1014.3M335.5,1008.1L335.5,1002.1M339.5,1007.7L339.5,1013.6M343.5,1007.2L343.5,1012.8M346.5,1006.9L346.5,1002.0M347.5,1006.8L347.5,1013.0M352.5,1006.2L352.5,1001.6M355.5,1005.9L355.5,1010.5M358.5,1005.5L358.5,1011.9M359.5,1005.4L359.5,1000.4M363.5,1005.0L363.5,1011.0M368.5,1004.4L368.5,1009.3M370.5,1004.2L370.5,999.2M371.5,1004.0L371.5,1010.3M379.5,1003.1L379.5,997.8M380.5,1003.0L380.5,1008.2M381.5,1002.9L381.5,997.7M382.5,1002.8L382.5,1008.4M385.5,1002.4L385.5,996.7M386.5,1002.3L386.5,996.4M387.5,1002.2L387.5,996.3M388.5,1002.1L388.5,1007.9M389.5,1002.0L389.5,997.1M393.5,1001.5L393.5,995.3M395.5,1001.3L395.5,995.0M396.5,1001.2L396.5,995.5M397.5,1001.1L397.5,1007.0M400.5,1000.7L400.5,995.9M402.5,1000.5L402.5,994.2M405.5,1000.2L405.5,993.8M406.5,1000.1L406.5,993.8M411.5,999.5L411.5,1005.0M412.5,999.4L412.5,1005.4M414.5,999.1L414.5,994.0M417.5,998.8L417.5,1004.7M421.5,998.3L421.5,992.5M424.5,997.9L424.5,1003.4M425.5,997.8L425.5,992.0M438.5,996.1L438.5,990.3M439.5,996.0L439.5,990.3M440.5,995.8L440.5,1001.8M442.5,995.5L442.5,990.4M446.5,995.0L446.5,1000.9M447.5,994.8L447.5,1000.7M452.5,994.1L452.5,999.6M453.5,993.9L453.5,998.8M457.5,993.3L457.5,999.4M459.5,993.0L459.5,999.1M461.5,992.6L461.5,998.2M463.5,992.3L463.5,997.0M469.5,991.3L469.5,985.8M470.5,991.1L470.5,986.3M471.5,990.9L471.5,997.0M473.5,990.5L473.5,985.5M478.5,989.6L478.5,983.9M483.5,988.6L483.5,982.3M487.5,987.7L487.5,982.7M489.5,987.3L489.5,993.3M490.5,987.1L490.5,992.1M493.5,986.4L493.5,981.0M497.5,985.4L497.5,990.3M501.5,984.5L501.5,979.1M502.5,984.2L502.5,979.3M504.5,983.7L504.5,978.1M505.5,983.4L505.5,988.9M506.5,983.2L506.5,987.8M507.5,982.9L507.5,976.9M508.5,982.6L508.5,976.6M510.5,982.1L510.5,976.7M512.5,981.5L512.5,975.4M517.5,980.0L517.5,974.8M519.5,979.4L519.5,973.5M523.5,978.2L523.5,972.2M528.5,976.5L528.5,970.6M530.5,975.8L530.5,970.9M533.5,974.7L533.5,980.1M534.5,974.3L534.5,979.7M536.5,973.6L536.5,967.8M539.5,972.4L539.5,966.1M540.5,972.0L540.5,966.6M543.5,970.8L543.5,975.7M544.5,970.4L544.5,964.6M545.5,970.0L545.5,975.3M548.5,968.7L548.5,962.7M551.5,967.4L551.5,961.4M552.5,966.9L552.5,972.4M555.5,965.5L555.5,970.9M556.5,965.0L556.5,970.2M558.5,964.0L558.5,958.9M565.5,960.4L565.5,966.1M566.5,959.8L566.5,954.9M574.5,955.2L574.5,949.1M575.5,954.6L575.5,960.1M576.5,953.9L576.5,948.3M578.5,952.6L578.5,947.5M584.5,948.6L584.5,954.7M585.5,947.9L585.5,953.2M591.5,943.4L591.5,949.2M596.5,939.3L596.5,933.7M598.5,937.6L598.5,942.7M599.5,936.8L599.5,931.4M603.5,933.1L603.5,938.1M607.5,929.3L607.5,934.9M608.5,928.3L608.5,933.7M610.5,926.3L610.5,920.4M611.5,925.2L611.5,930.6M612.5,924.2L612.5,929.3M623.5,911.5L623.5,905.8M624.5,910.3L624.5,905.5M628.5,905.1L628.5,910.3M631.5,901.0L631.5,906.1M632.5,899.5L632.5,904.2M634.5,896.7L634.5,891.2M635.5,895.2L635.5,890.5M637.5,892.1L637.5,897.8M642.5,884.1L642.5,889.2M646.5,877.2L646.5,871.9M647.5,875.3L647.5,881.4M654.5,861.6L654.5,866.5M657.5,855.1L657.5,861.1M658.5,852.8L658.5,858.7M661.5,845.7L661.5,840.2M662.5,843.3L662.5,838.1M664.5,838.2L664.5,832.1M669.5,824.6L669.5,829.6M675.5,806.4L675.5,800.9M676.5,803.1L676.5,796.9M679.5,793.2L679.5,788.5M682.5,782.9L682.5,788.8M683.5,779.4L683.5,785.4M686.5,768.8L686.5,773.7M687.5,765.2L687.5,759.3M689.5,758.0L689.5,752.6M694.5,739.4L694.5,733.7M697.5,727.9L697.5,721.9M698.5,724.0L698.5,730.1M699.5,720.0L699.5,725.1M703.5,704.0L703.5,697.7M705.5,695.7L705.5,690.5M709.5,678.7L709.5,673.0M714.5,656.6L714.5,650.4M719.5,633.2L719.5,626.8M720.5,628.4L720.5,622.5M726.5,598.5L726.5,604.3M729.5,583.9L729.5,578.6M733.5,565.9L733.5,571.2M735.5,557.8L735.5,552.1M737.5,550.4L737.5,555.4M743.5,530.8L743.5,525.0M745.5,525.2L745.5,520.0M748.5,518.7L748.5,513.1M750.5,515.6L750.5,510.4M753.5,512.1L753.5,517.3M763.5,509.2L763.5,515.6M769.5,523.0L769.5,518.1M770.5,526.9L770.5,520.6M776.5,542.6L776.5,537.2M778.5,546.9L778.5,542.2M780.5,551.7L780.5,546.6M782.5,557.0L782.5,561.7M785.5,566.2L785.5,561.3M789.5,581.2L789.5,586.1M790.5,585.5L790.5,591.2M794.5,605.0L794.5,611.0M796.5,615.8L796.5,610.5M798.5,626.8L798.5,620.8M801.5,642.5L801.5,636.7M802.5,647.4L802.5,653.2M803.5,652.3L803.5,647.5M804.5,657.0L804.5,661.6M808.5,674.9L808.5,681.2M809.5,679.1L809.5,685.3M810.5,683.4L810.5,677.8M812.5,691.6L812.5,686.4M817.5,711.7L817.5,706.1M820.5,723.4L820.5,729.1M825.5,742.8L825.5,736.8M826.5,746.6L826.5,741.2M829.5,758.3L829.5,763.8M831.5,766.0L831.5,771.5M832.5,769.9L832.5,763.5M835.5,781.1L835.5,787.2M837.5,788.4L837.5,794.3M838.5,791.9L838.5,786.0M840.5,798.8L840.5,793.8M843.5,808.6L843.5,813.7M845.5,814.8L845.5,820.2M846.5,817.8L846.5,822.6M848.5,823.6L848.5,818.6M851.5,831.8L851.5,825.8M861.5,855.0L861.5,859.7M866.5,864.7L866.5,870.2M867.5,866.5L867.5,861.6M871.5,873.3L871.5,867.1M872.5,874.9L872.5,881.1M877.5,882.5L877.5,887.8M878.5,883.9L878.5,878.6M883.5,890.5L883.5,896.2M886.5,894.1L886.5,889.4M889.5,897.5L889.5,903.1M890.5,898.6L890.5,892.9M892.5,900.7L892.5,894.5M893.5,901.7L893.5,896.3M894.5,902.7L894.5,907.8M899.5,907.4L899.5,913.0M902.5,910.0L902.5,905.2M907.5,914.0L907.5,918.7M917.5,920.9L917.5,915.6M920.5,922.7L920.5,917.3M923.5,924.4L923.5,930.0M924.5,924.9L924.5,919.1M925.5,925.5L925.5,931.7M927.5,926.5L927.5,920.7M931.5,928.5L931.5,923.4M943.5,933.7L943.5,938.8M947.5,935.1L947.5,940.4M949.5,935.8L949.5,930.5M950.5,936.2L950.5,931.2M952.5,936.8L952.5,932.1M958.5,938.6L958.5,944.0M959.5,938.9L959.5,944.8M960.5,939.1L960.5,944.1M965.5,940.4L965.5,934.9M966.5,940.6L966.5,934.8M967.5,940.9L967.5,935.6M968.5,941.1L968.5,935.4M970.5,941.5L970.5,947.7M972.5,941.9L972.5,947.0M973.5,942.1L973.5,937.3M981.5,943.4L981.5,948.7M984.5,943.8L984.5,949.8M989.5,944.3L989.5,939.0M990.5,944.4L990.5,939.0M991.5,944.5L991.5,938.9M992.5,944.6L992.5,938.5M996.5,944.9L996.5,951.0M997.5,944.9L997.5,950.9M999.5,945.0L999.5,939.0M1000.5,945.1L1000.5,938.8M1002.5,945.1L1002.5,939.5M1003.5,945.1L1003.5,940.1M1004.5,945.2L1004.5,951.4M1006.5,945.2L1006.5,939.9M1012.5,945.1L1012.5,939.1M1013.5,945.1L1013.5,939.8M1014.5,945.0L1014.5,939.6M1016.5,944.9L1016.5,938.7M1018.5,944.8L1018.5,950.7M1024.5,944.3L1024.5,938.1M1025.5,944.2L1025.5,950.0M1028.5,943.8L1028.5,950.2M1029.5,943.7L1029.5,938.5M1031.5,943.4L1031.5,938.6M1032.5,943.3L1032.5,937.0M1034.5,942.9L1034.5,947.8M1035.5,942.8L1035.5,948.1M1036.5,942.6L1036.5,947.4M1037.5,942.4L1037.5,948.1M1041.5,941.6L1041.5,935.5M1042.5,941.4L1042.5,947.2M1046.5,940.5L1046.5,946.0M1047.5,940.2L1047.5,935.5M1048.5,940.0L1048.5,933.8M1051.5,939.2L1051.5,944.8M1052.5,938.9L1052.5,944.8M1053.5,938.6L1053.5,944.3M1057.5,937.3L1057.5,943.2M1060.5,936.3L1060.5,941.6M1066.5,933.9L1066.5,928.6M1069.5,932.7L1069.5,926.7M1075.5,929.8L1075.5,924.2M1076.5,929.3L1076.5,934.0M1085.5,924.1L1085.5,930.1M1088.5,922.1L1088.5,916.5M1089.5,921.4L1089.5,927.6M1090.5,920.7L1090.5,915.7M1093.5,918.5L1093.5,912.4M1095.5,917.0L1095.5,910.9M1096.5,916.2L1096.5,911.4M1097.5,915.4L1097.5,921.5M1099.5,913.7L1099.5,919.8M1102.5,911.1L1102.5,916.9M1104.5,909.2L1104.5,904.6M1113.5,899.9L1113.5,906.1M1116.5,896.4L1116.5,902.5M1120.5,891.4L1120.5,886.6M1121.5,890.1L1121.5,894.9M1122.5,888.8L1122.5,894.7M1125.5,884.6L1125.5,878.5M1126.5,883.1L1126.5,877.0M1127.5,881.7L1127.5,886.9M1130.5,877.0L1130.5,871.7M1132.5,873.7L1132.5,868.2M1133.5,872.1L1133.5,867.0M1134.5,870.3L1134.5,874.9M1135.5,868.6L1135.5,862.3M1136.5,866.8L1136.5,861.6M1140.5,859.1L1140.5,864.1M1142.5,855.0L1142.5,850.2M1143.5,852.9L1143.5,848.2M1156.5,819.0L1156.5,824.0M1157.5,815.7L1157.5,809.4M1164.5,788.5L1164.5,794.3M1168.5,768.4L1168.5,762.2M1171.5,752.5L1171.5,758.7M1177.5,725.6L1177.5,730.3M1179.5,718.4L1179.5,724.1M1181.5,711.9L1181.5,716.7M1182.5,708.9L1182.5,703.4M1183.5,706.1L1183.5,712.1M1185.5,700.7L1185.5,694.5M1187.5,695.9L1187.5,700.8M1190.5,690.3L1190.5,696.5M1193.5,686.4L1193.5,692.1M1195.5,684.5L1195.5,689.3M1199.5,682.2L1199.5,676.1M1202.5,682.2L1202.5,676.8M1204.5,683.2L1204.5,688.0M1205.5,684.0L1205.5,678.4M1208.5,687.3L1208.5,692.6M1210.5,690.2L1210.5,695.9M1214.5,696.8L1214.5,692.2M1216.5,700.2L1216.5,694.0M1220.5,706.7L1220.5,711.7M1223.5,711.1L1223.5,706.0M1224.5,712.4L1224.5,706.2M1225.5,713.7L1225.5,719.8M1226.5,715.0L1226.5,709.0M1229.5,718.7L1229.5,712.6M1233.5,723.6L1233.5,718.1M1234.5,724.8L1234.5,718.9M1239.5,731.9L1239.5,727.0M1247.5,747.0L1247.5,751.7M1249.5,751.9L1249.5,757.7M1252.5,760.4L1252.5,765.7M1253.5,763.6L1253.5,757.6M1260.5,793.2L1260.5,799.0M1261.5,798.4L1261.5,792.5M1268.5,839.5L1268.5,845.6M1269.5,845.8L1269.5,840.2M1276.5,889.0L1276.5,894.6M1278.5,899.8L1278.5,904.5M1280.5,909.7L1280.5,903.4M1282.5,918.8L1282.5,923.7M1283.5,923.0L1283.5,917.1M1285.5,931.0L1285.5,925.3M1286.5,934.7L1286.5,939.6M1287.5,938.3L1287.5,933.7M1292.5,954.6L1292.5,949.5M1293.5,957.5L1293.5,952.8M1295.5,962.8L1295.5,956.8M1298.5,969.7L1298.5,974.8M1303.5,978.6L1303.5,984.9M1309.5,985.9L1309.5,991.1M1311.5,987.8L1311.5,992.7M1315.5,990.8L1315.5,985.8M1316.5,991.4L1316.5,997.6M1318.5,992.5L1318.5,998.3M1319.5,993.0L1319.5,999.2M1321.5,993.9L1321.5,999.7M1325.5,995.5L1325.5,1001.1M1329.5,996.8L1329.5,990.5M1331.5,997.4L1331.5,991.6M1333.5,998.0L1333.5,1003.5M1335.5,998.6L1335.5,993.8M1336.5,998.8L1336.5,993.8M1340.5,999.9L1340.5,1005.6M1342.5,1000.4L1342.5,994.3M1344.5,1000.9L1344.5,994.8M1355.5,1003.3L1355.5,997.8M1356.5,1003.5L1356.5,1008.2M1359.5,1004.1L1359.5,1009.6M1361.5,1004.4L1361.5,1010.0M1372.5,1006.1L1372.5,1012.0M1373.5,1006.3L1373.5,1000.9M1376.5,1006.7L1376.5,1002.0M1377.5,1006.8L1377.5,1000.8M1381.5,1007.3L1381.5,1012.7M1382.5,1007.4L1382.5,1001.2M1383.5,1007.5L1383.5,1002.0M1384.5,1007.6L1384.5,1013.5M1390.5,1008.2L1390.5,1013.5M1395.5,1008.7L1395.5,1003.4M1397.5,1008.9L1397.5,1015.0M1398.5,1008.9L1398.5,1013.5M1403.5,1009.3L1403.5,1015.6M1404.5,1009.4L1404.5,1015.1M1407.5,1009.6L1407.5,1014.8M1410.5,1009.8L1410.5,1015.9M1414.5,1010.0L1414.5,1014.8M1416.5,1010.1L1416.5,1004.0M1418.5,1010.3L1418.5,1016.4M1419.5,1010.3L1419.5,1016.2M1421.5,1010.4L1421.5,1015.4M1426.5,1010.7L1426.5,1004.7M1436.5,1011.1L1436.5,1015.8M1437.5,1011.2L1437.5,1006.2M1438.5,1011.2L1438.5,1005.8M1444.5,1011.5L1444.5,1006.6M1445.5,1011.5L1445.5,1017.6M1447.5,1011.6L1447.5,1017.0M1448.5,1011.7L1448.5,1005.6M1452.5,1011.8L1452.5,1016.9M1465.5,1012.4L1465.5,1018.1M1468.5,1012.5L1468.5,1006.9M1469.5,1012.5L1469.5,1006.2M1479.5,1012.9L1479.5,1018.7M1481.5,1013.0L1481.5,1007.8M1488.5,1013.3L1488.5,1007.5M1493.5,1013.5L1493.5,1008.4M1494.5,1013.5L1494.5,1018.7M1500.5,1013.8L1500.5,1019.4M1501.5,1013.8L1501.5,1019.8M1502.5,1013.8L1502.5,1007.5M1504.5,1013.9L1504.5,1018.9M1506.5,1014.0L1506.5,1009.3M1510.5,1014.1L1510.5,1008.8M1516.5,1014.3L1516.5,1009.1M1521.5,1014.5L1521.5,1020.2M1526.5,1014.7L1526.5,1020.6M1529.5,1014.8L1529.5,1010.0M1532.5,1014.9L1532.5,1009.8M1533.5,1014.9L1533.5,1021.1M1541.5,1015.2L1541.5,1009.3M1543.5,1015.2L1543.5,1010.1M1552.5,1015.5L1552.5,1010.1M1553.5,1015.6L1553.5,1020.9M1555.5,1015.6L1555.5,1021.0M1557.5,1015.7L1557.5,1021.3M1559.5,1015.7L1559.5,1021.0M1563.5,1015.9L1563.5,1010.7M1566.5,1015.9L1566.5,1011.3M1568.5,1016.0L1568.5,1021.8M1571.5,1016.1L1571.5,1009.8M1573.5,1016.2L1573.5,1021.6M1575.5,1016.2L1575.5,1010.7M1578.5,1016.3L1578.5,1022.4M1579.5,1016.3L1579.5,1011.4M1580.5,1016.4L1580.5,1011.4M1582.5,1016.4L1582.5,1010.6M1583.5,1016.4L1583.5,1011.5M1586.5,1016.5L1586.5,1010.6M1589.5,1016.6L1589.5,1022.2M1590.5,1016.6L1590.5,1022.4M1591.5,1016.6L1591.5,1010.7M1593.5,1016.7L1593.5,1022.4M1598.5,1016.8L1598.5,1022.7M1599.5,1016.9L1599.5,1021.6M1601.5,1016.9L1601.5,1022.2M1603.5,1017.0L1603.5,1012.0M1606.5,1017.0L1606.5,1011.6M1608.5,1017.1L1608.5,1022.3M1609.5,1017.1L1609.5,1011.0M1610.5,1017.1L1610.5,1023.5M1613.5,1017.2L1613.5,1012.3M1623.5,1017.4L1623.5,1012.5M1629.5,1017.6L1629.5,1023.9M1630.5,1017.6L1630.5,1012.4M1635.5,1017.7L1635.5,1023.1M1639.5,1017.8L1639.5,1023.7M1640.5,1017.8L1640.5,1023.5M1647.5,1018.0L1647.5,1013.1M1650.5,1018.0L1650.5,1012.8M1651.5,1018.0L1651.5,1023.9M1652.5,1018.1L1652.5,1023.4M1653.5,1018.1L1653.5,1013.2M1658.5,1018.2L1658.5,1022.9M1660.5,1018.2L1660.5,1023.7M1661.5,1018.2L1661.5,1022.9M1662.5,1018.3L1662.5,1023.2M1666.5,1018.3L1666.5,1022.9M1673.5,1018.5L1673.5,1024.6M1676.5,1018.5L1676.5,1024.7M1678.5,1018.5L1678.5,1024.7M1680.5,1018.6L1680.5,1023.2M1693.5,1018.8L1693.5,1023.9M1694.5,1018.8L1694.5,1013.2M1699.5,1018.9L1699.5,1014.2M1703.5,1018.9L1703.5,1013.0M1707.5,1019.0L1707.5,1025.1M1709.5,1019.0L1709.5,1024.9M1711.5,1019.0L1711.5,1013.4M1713.5,1019.1L1713.5,1013.3M1714.5,1019.1L1714.5,1023.8M1716.5,1019.1L1716.5,1024.9M1717.5,1019.1L1717.5,1024.8M1720.5,1019.1L1720.5,1013.8M1721.5,1019.2L1721.5,1013.4M1730.5,1019.3L1730.5,1013.5M1732.5,1019.3L1732.5,1014.2M1733.5,1019.3L1733.5,1013.1M1736.5,1019.3L1736.5,1024.6M1739.5,1019.4L1739.5,1024.9M1744.5,1019.4L1744.5,1024.3M1746.5,1019.4L1746.5,1025.8M1747.5,1019.4L1747.5,1025.1M1749.5,1019.5L1749.5,1013.6M1753.5,1019.5L1753.5,1013.2M1755.5,1019.5L1755.5,1014.5M1758.5,1019.5L1758.5,1025.9M1760.5,1019.6L1760.5,1013.8M1762.5,1019.6L1762.5,1024.7M1763.5,1019.6L1763.5,1014.7M1766.5,1019.6L1766.5,1024.2M1770.5,1019.6L1770.5,1024.3M1771.5,1019.6L1771.5,1013.7M1773.5,1019.6L1773.5,1025.9M1774.5,1019.7L1774.5,1025.7M1777.5,1019.7L1777.5,1014.1M1782.5,1019.7L1782.5,1014.5M1784.5,1019.7L1784.5,1013.4M1786.5,1019.7L1786.5,1025.2M1788.5,1019.7L1788.5,1025.9M1795.5,1019.8L1795.5,1014.3M1800.5,1019.8L1800.5,1014.3M1803.5,1019.8L1803.5,1013.8M1804.5,1019.8L1804.5,1025.1M1809.5,1019.8L1809.5,1014.5M1811.5,1019.8L1811.5,1013.4M1813.5,1019.8L1813.5,1014.2M1817.5,1019.8L1817.5,1025.6M1819.5,1019.8L1819.5,1014.5M1820.5,1019.8L1820.5,1024.6M1821.5,1019.9L1821.5,1014.7M1822.5,1019.9L1822.5,1025.2M1826.5,1019.9L1826.5,1024.9M1829.5,1019.9L1829.5,1025.6M1830.5,1019.9L1830.5,1026.2M1832.5,1019.9L1832.5,1025.9M1838.5,1019.9L1838.5,1015.1M1840.5,1019.9L1840.5,1025.6M1845.5,1019.9L1845.5,1014.2M1847.5,1019.9L1847.5,1026.2M1850.5,1019.9L1850.5,1013.9M1851.5,1019.9L1851.5,1025.8M1854.5,1019.9L1854.5,1025.0M1860.5,1019.8L1860.5,1014.7M1864.5,1019.8L1864.5,1014.5M1868.5,1019.8L1868.5,1014.6M1870.5,1019.8L1870.5,1014.0M1875.5,1019.8L1875.5,1024.5M1876.5,1019.8L1876.5,1026.1M1877.5,1019.8L1877.5,1014.3M1879.5,1019.8L1879.5,1024.7M1883.5,1019.8L1883.5,1026.1M1884.5,1019.8L1884.5,1013.6M1889.5,1019.7L1889.5,1015.1M1894.5,1019.7L1894.5,1024.5M1895.5,1019.7L1895.5,1013.3M1897.5,1019.7L1897.5,1025.2M1900.5,1019.7L1900.5,1014.4M1904.5,1019.7L1904.5,1015.0M1912.5,1019.6L1912.5,1025.6M1915.5,1019.6L1915.5,1024.5M1916.5,1019.6L1916.5,1024.6M1917.5,1019.6L1917.5,1013.8" fill="none" stroke="#0000ff" stroke-width="1.6"/>
<path d="M183.0,782.7 184.7,783.2 186.5,779.6 188.2,782.4 190.0,783.4 191.7,781.3 193.4,783.9 195.2,780.2 196.9,783.7 198.7,781.5 200.4,780.8 202.1,781.2 203.9,781.3 205.6,780.3 207.4,779.8 209.1,780.6 210.8,782.0 212.6,781.3 214.3,782.1 216.1,779.8 217.8,779.9 219.5,779.8 221.3,780.1 223.0,780.3 224.8,781.5 226.5,780.2 228.2,779.4 230.0,780.5 231.7,777.9 233.5,777.1 235.2,779.1 236.9,778.3 238.7,778.1 240.4,778.7 242.2,777.1 243.9,777.1 245.6,777.4 247.4,777.5 249.1,777.6 250.9,776.4 252.6,776.4 254.3,773.2 256.1,776.9 257.8,773.6 259.6,775.0 261.3,777.6 263.0,774.2 264.8,772.6 266.5,775.8 268.3,773.2 270.0,773.3 271.7,773.1 273.5,773.8 275.2,773.6 277.0,772.3 278.7,773.4 280.4,770.9 282.2,772.3 283.9,770.6 285.7,771.8 287.4,770.0 289.1,770.0 290.9,771.8 292.6,768.6 294.4,768.3 296.1,769.9 297.8,768.7 299.6,768.2 301.3,768.2 303.1,770.4 304.8,766.6 306.5,767.2 308.3,767.4 310.0,765.8 311.8,766.5 313.5,766.8 315.2,764.9 317.0,766.9 318.7,764.1 320.5,764.9 322.2,765.1 323.9,767.9 325.7,762.2 327.4,764.1 329.2,766.2 330.9,762.5 332.6,764.0 334.4,762.7 336.1,760.6 337.9,762.3 339.6,760.6 341.3,761.3 343.1,759.3 344.8,761.4 346.6,757.6 348.3,759.8 350.0,761.1 351.8,759.9 353.5,758.7 355.3,758.5 357.0,757.9 358.7,761.1 360.5,757.7 362.2,757.5 364.0,756.3 365.7,756.3 367.4,757.2 369.2,755.5 370.9,755.0 372.7,755.0 374.4,754.9 376.1,755.2 377.9,754.1 379.6,754.2 381.4,753.2 383.1,755.1 384.8,753.6 386.6,752.8 388.3,753.2 390.1,752.5 391.8,750.5 393.5,751.7 395.3,753.4 397.0,751.9 398.8,752.3 400.5,749.9 402.2,748.7 404.0,749.3 405.7,751.2 407.5,748.3 409.2,748.2 410.9,750.0 412.7,748.2 414.4,747.9 416.2,748.3 417.9,747.6 419.6,746.9 421.4,747.1 423.1,745.8 424.9,746.2 426.6,746.6 428.3,744.4 430.1,745.0 431.8,743.6 433.6,745.3 435.3,744.8 437.0,744.9 438.8,744.6 440.5,744.2 442.3,743.5 444.0,741.5 445.7,743.1 447.5,740.7 449.2,743.8 451.0,741.2 452.7,741.2 454.4,738.8 456.2,740.9 457.9,740.7 459.7,737.2 461.4,738.0 463.1,737.6 464.9,737.0 466.6,738.9 468.4,739.3 470.1,735.3 471.8,737.2 473.6,735.3 475.3,736.7 477.1,732.0 478.8,733.8 480.5,735.2 482.3,732.5 484.0,734.2 485.8,731.9 487.5,733.2 489.2,732.1 491.0,730.5 492.7,729.6 494.5,729.8 496.2,730.7 497.9,728.9 499.7,727.7 501.4,731.5 503.2,725.6 504.9,726.5 506.6,726.8 508.4,724.5 510.1,725.0 511.9,724.0 513.6,722.3 515.3,723.8 517.1,721.4 518.8,721.2 520.6,722.8 522.3,719.6 524.0,720.8 525.8,720.8 527.5,719.9 529.3,718.7 531.0,717.2 532.7,715.2 534.5,716.2 536.2,715.8 538.0,714.1 539.7,712.8 541.4,714.1 543.2,711.2 544.9,712.1 546.7,710.3 548.4,708.2 550.1,711.0 551.9,709.1 553.6,708.1 555.4,705.1 557.1,705.7 558.8,705.3 560.6,703.2 562.3,705.0 564.1,700.0 565.8,702.1 567.5,698.3 569.3,697.7 571.0,697.0 572.8,698.0 574.5,695.6 576.2,694.6 578.0,693.3 579.7,691.6 581.5,691.2 583.2,690.0 584.9,689.6 586.7,688.4 588.4,685.1 590.2,685.8 591.9,686.7 593.6,683.6 595.4,682.8 597.1,680.9 598.9,679.7 600.6,679.1 602.3,676.4 604.1,676.3 605.8,673.4 607.6,674.2 609.3,670.7 611.0,671.8 612.8,670.7 614.5,666.4 616.3,667.4 618.0,664.7 619.7,664.9 621.5,661.5 623.2,660.2 625.0,658.6 626.7,658.6 628.4,653.5 630.2,654.7 631.9,652.3 633.7,649.9 635.4,648.3 637.1,647.8 638.9,645.8 640.6,644.9 642.4,640.3 644.1,637.0 645.8,636.4 647.6,634.7 649.3,632.3 651.1,632.0 652.8,630.9 654.5,626.6 656.3,621.9 658.0,622.6 659.8,618.2 661.5,616.5 663.2,614.7 665.0,611.5 666.7,608.3 668.5,605.9 670.2,603.5 671.9,600.4 673.7,598.9 675.4,590.2 677.2,589.4 678.9,586.3 680.6,584.5 682.4,580.4 684.1,577.5 685.9,571.4 687.6,569.0 689.3,566.2 691.1,561.7 692.8,557.4 694.6,554.2 696.3,551.7 698.0,543.6 699.8,543.6 701.5,538.0 703.3,532.7 705.0,530.2 706.7,525.4 708.5,522.6 710.2,516.2 712.0,514.1 713.7,508.0 715.4,505.4 717.2,501.8 718.9,497.1 720.7,494.0 722.4,488.9 724.1,486.9 725.9,481.4 727.6,477.5 729.4,474.4 731.1,470.8 732.8,466.2 734.6,464.2 736.3,459.5 738.1,456.5 739.8,450.4 741.5,446.7 743.3,443.9 745.0,439.1 746.8,436.0 748.5,432.5 750.2,428.8 752.0,424.8 753.7,419.4 755.5,413.0 757.2,409.3 758.9,402.8 760.7,398.2 762.4,390.5 764.2,387.3 765.9,381.1 767.6,375.8 769.4,370.7 771.1,369.1 772.9,365.2 774.6,363.5 776.3,360.1 778.1,358.2 779.8,357.7 781.6,356.9 783.3,352.4 785.0,352.2 786.8,351.6 788.5,349.9 790.3,348.6 792.0,350.6 793.7,346.6 795.5,347.3 797.2,346.0 799.0,346.1 800.7,343.6 802.4,347.1 804.2,346.1 805.9,345.6 807.7,349.1 809.4,347.7 811.1,348.2 812.9,349.0 814.6,352.3 816.4,352.5 818.1,353.7 819.8,354.3 821.6,356.7 823.3,360.1 825.1,362.0 826.8,362.4 828.5,366.4 830.3,370.7 832.0,377.0 833.8,377.2 835.5,380.4 837.2,389.3 839.0,394.7 840.7,401.7 842.5,412.2 844.2,419.3 845.9,425.3 847.7,430.7 849.4,436.8 851.2,441.3 852.9,443.2 854.6,450.1 856.4,451.2 858.1,457.8 859.9,460.2 861.6,463.4 863.3,467.8 865.1,470.9 866.8,475.8 868.6,482.3 870.3,484.7 872.0,491.3 873.8,494.7 875.5,501.2 877.3,507.8 879.0,511.0 880.7,518.1 882.5,520.7 884.2,526.9 886.0,532.5 887.7,538.5 889.4,542.7 891.2,545.1 892.9,549.9 894.7,554.1 896.4,555.8 898.1,561.5 899.9,565.9 901.6,569.0 903.4,570.2 905.1,573.4 906.8,575.7 908.6,579.1 910.3,582.1 912.1,585.8 913.8,587.7 915.5,589.0 917.3,593.4 919.0,595.8 920.8,596.4 922.5,599.0 924.2,601.3 926.0,601.7 927.7,605.6 929.5,608.2 931.2,611.4 932.9,611.3 934.7,612.6 936.4,614.4 938.2,616.9 939.9,618.7 941.6,618.5 943.4,621.1 945.1,623.1 946.9,621.6 948.6,626.7 950.3,626.2 952.1,628.7 953.8,628.9 955.6,629.9 957.3,631.2 959.0,632.7 960.8,634.4 962.5,634.2 964.3,634.2 966.0,635.6 967.7,636.2 969.5,639.0 971.2,637.9 973.0,641.4 974.7,640.6 976.4,641.1 978.2,643.3 979.9,642.1 981.7,642.8 983.4,644.6 985.1,645.1 986.9,643.7 988.6,647.9 990.4,646.3 992.1,644.7 993.8,646.3 995.6,647.9 997.3,647.4 999.1,648.4 1000.8,650.4 1002.5,649.0 1004.3,650.4 1006.0,649.2 1007.8,647.9 1009.5,650.4 1011.2,648.1 1013.0,650.1 1014.7,649.8 1016.5,648.2 1018.2,648.4 1019.9,649.0 1021.7,649.7 1023.4,650.6 1025.2,649.2 1026.9,651.2 1028.6,649.9 1030.4,648.2 1032.1,648.1 1033.9,648.7 1035.6,647.8 1037.3,648.1 1039.1,648.8 1040.8,648.0 1042.6,648.6 1044.3,646.5 1046.0,646.0 1047.8,645.1 1049.5,644.3 1051.3,645.4 1053.0,645.6 1054.7,644.9 1056.5,644.7 1058.2,646.5 1060.0,642.6 1061.7,643.0 1063.4,642.2 1065.2,641.3 1066.9,643.2 1068.7,641.1 1070.4,641.9 1072.1,638.7 1073.9,641.3 1075.6,641.1 1077.4,636.9 1079.1,637.2 1080.8,636.3 1082.6,636.3 1084.3,633.5 1086.1,634.6 1087.8,634.0 1089.5,631.7 1091.3,629.0 1093.0,629.8 1094.8,629.2 1096.5,629.4 1098.2,626.9 1100.0,625.3 1101.7,626.1 1103.5,624.7 1105.2,624.0 1106.9,622.0 1108.7,621.9 1110.4,620.1 1112.2,616.2 1113.9,617.0 1115.6,616.3 1117.4,614.0 1119.1,614.1 1120.9,610.4 1122.6,610.0 1124.3,606.2 1126.1,605.8 1127.8,603.4 1129.6,601.0 1131.3,598.6 1133.0,598.2 1134.8,596.3 1136.5,592.8 1138.3,589.8 1140.0,587.7 1141.7,586.9 1143.5,582.0 1145.2,581.7 1147.0,575.6 1148.7,574.7 1150.4,571.8 1152.2,569.0 1153.9,563.6 1155.7,559.5 1157.4,554.9 1159.1,553.4 1160.9,548.0 1162.6,543.3 1164.4,538.9 1166.1,535.0 1167.8,530.0 1169.6,526.4 1171.3,517.9 1173.1,516.3 1174.8,509.8 1176.5,505.5 1178.3,500.4 1180.0,496.0 1181.8,492.3 1183.5,487.2 1185.2,480.8 1187.0,477.7 1188.7,473.1 1190.5,468.9 1192.2,463.8 1193.9,458.9 1195.7,455.2 1197.4,448.0 1199.2,446.8 1200.9,439.1 1202.6,433.9 1204.4,431.3 1206.1,427.4 1207.9,423.9 1209.6,421.3 1211.3,418.2 1213.1,416.5 1214.8,416.4 1216.6,416.1 1218.3,416.2 1220.0,419.6 1221.8,421.2 1223.5,420.7 1225.3,422.3 1227.0,423.9 1228.7,424.7 1230.5,427.9 1232.2,430.4 1234.0,433.2 1235.7,434.5 1237.4,435.8 1239.2,441.0 1240.9,444.7 1242.7,443.0 1244.4,447.8 1246.1,451.7 1247.9,452.4 1249.6,455.2 1251.4,460.3 1253.1,463.6 1254.8,467.2 1256.6,474.2 1258.3,479.1 1260.1,483.8 1261.8,489.4 1263.5,496.4 1265.3,505.7 1267.0,513.2 1268.8,524.3 1270.5,533.9 1272.2,542.0 1274.0,553.8 1275.7,564.9 1277.5,573.8 1279.2,581.5 1280.9,591.5 1282.7,600.5 1284.4,610.1 1286.2,619.2 1287.9,628.2 1289.6,639.2 1291.4,650.0 1293.1,658.9 1294.9,669.5 1296.6,682.6 1298.3,691.9 1300.1,700.7 1301.8,706.5 1303.6,713.5 1305.3,717.4 1307.0,724.1 1308.8,728.7 1310.5,729.3 1312.3,730.5 1314.0,735.6 1315.7,738.1 1317.5,741.2 1319.2,743.1 1321.0,745.6 1322.7,749.8 1324.4,747.9 1326.2,749.7 1327.9,752.1 1329.7,751.0 1331.4,755.2 1333.1,755.0 1334.9,755.3 1336.6,757.1 1338.4,759.6 1340.1,761.1 1341.8,762.5 1343.6,762.6 1345.3,762.2 1347.1,764.5 1348.8,764.6 1350.5,768.1 1352.3,764.0 1354.0,768.8 1355.8,768.6 1357.5,768.9 1359.2,769.0 1361.0,769.2 1362.7,769.3 1364.5,769.3 1366.2,773.8 1367.9,773.2 1369.7,773.4 1371.4,773.6 1373.2,771.6 1374.9,774.0 1376.6,774.9 1378.4,776.5 1380.1,774.6 1381.9,776.4 1383.6,776.3 1385.3,777.0 1387.1,776.6 1388.8,778.2 1390.6,778.3 1392.3,776.6 1394.0,780.3 1395.8,781.8 1397.5,778.8 1399.3,781.4 1401.0,779.4 1402.7,780.3 1404.5,783.1 1406.2,781.8 1408.0,783.6 1409.7,782.5 1411.4,783.7 1413.2,782.7 1414.9,784.8 1416.7,785.5 1418.4,784.6 1420.1,783.5 1421.9,784.1 1423.6,783.7 1425.4,785.7 1427.1,785.9 1428.8,784.9 1430.6,786.9 1432.3,785.6 1434.1,788.5 1435.8,787.7 1437.5,788.8 1439.3,786.5 1441.0,786.5 1442.8,785.8 1444.5,788.8 1446.2,787.1 1448.0,790.0 1449.7,789.0 1451.5,789.9 1453.2,787.9 1454.9,788.8 1456.7,789.9 1458.4,790.8 1460.2,788.7 1461.9,790.8 1463.6,789.7 1465.4,791.7 1467.1,790.8 1468.9,790.9 1470.6,791.9 1472.3,792.9 1474.1,791.5 1475.8,793.3 1477.6,791.1 1479.3,792.7 1481.0,791.3 1482.8,792.9 1484.5,791.9 1486.3,793.1 1488.0,793.9 1489.7,792.3 1491.5,791.6 1493.2,793.5 1495.0,794.4 1496.7,794.3 1498.4,793.2 1500.2,795.2 1501.9,794.1 1503.7,795.4 1505.4,793.8 1507.1,795.4 1508.9,796.3 1510.6,794.4 1512.4,795.0 1514.1,796.1 1515.8,796.1 1517.6,796.0 1519.3,795.6 1521.1,794.2 1522.8,796.0 1524.5,794.7 1526.3,796.3 1528.0,793.8 1529.8,798.0 1531.5,798.6 1533.2,797.2 1535.0,795.8 1536.7,796.5 1538.5,798.0 1540.2,797.8 1541.9,796.4 1543.7,798.6 1545.4,798.2 1547.2,798.0 1548.9,797.2 1550.6,797.6 1552.4,796.9 1554.1,798.0 1555.9,797.2 1557.6,799.3 1559.3,798.1 1561.1,798.4 1562.8,798.6 1564.6,798.7 1566.3,796.8 1568.0,799.9 1569.8,798.6 1571.5,798.0 1573.3,797.6 1575.0,798.0 1576.7,798.2 1578.5,798.9 1580.2,798.0 1582.0,799.2 1583.7,799.3 1585.4,798.4 1587.2,801.7 1588.9,799.2 1590.7,799.7 1592.4,799.6 1594.1,799.3 1595.9,800.3 1597.6,801.1 1599.4,799.6 1601.1,798.8 1602.8,800.4 1604.6,797.5 1606.3,800.1 1608.1,799.8 1609.8,800.4 1611.5,798.5 1613.3,799.7 1615.0,799.1 1616.8,799.7 1618.5,801.0 1620.2,800.2 1622.0,799.9 1623.7,801.9 1625.5,800.7 1627.2,798.5 1628.9,799.6 1630.7,801.3 1632.4,801.4 1634.2,801.2 1635.9,801.3 1637.6,800.1 1639.4,801.0 1641.1,799.9 1642.9,800.4 1644.6,800.4 1646.3,800.5 1648.1,801.1 1649.8,801.3 1651.6,800.8 1653.3,802.9 1655.0,801.3 1656.8,803.5 1658.5,803.0 1660.3,800.7 1662.0,803.0 1663.7,800.6 1665.5,803.8 1667.2,802.7 1669.0,801.3 1670.7,800.1 1672.4,802.1 1674.2,801.2 1675.9,803.9 1677.7,801.5 1679.4,802.6 1681.1,803.5 1682.9,803.1 1684.6,803.4 1686.4,803.0 1688.1,804.1 1689.8,802.4 1691.6,804.1 1693.3,802.3 1695.1,803.9 1696.8,802.6 1698.5,803.7 1700.3,804.6 1702.0,805.4 1703.8,802.2 1705.5,803.5 1707.2,803.3 1709.0,805.8 1710.7,803.7 1712.5,805.5 1714.2,804.2 1715.9,803.3 1717.7,805.1 1719.4,803.9 1721.2,806.0 1722.9,806.2 1724.6,806.8 1726.4,804.4 1728.1,807.3 1729.9,806.7 1731.6,803.9 1733.3,808.3 1735.1,807.8 1736.8,805.0 1738.6,806.6 1740.3,804.8 1742.0,806.3 1743.8,806.7 1745.5,807.3 1747.3,805.8 1749.0,806.8 1750.7,805.9 1752.5,807.4 1754.2,807.8 1756.0,807.3 1757.7,808.5 1759.4,808.2 1761.2,807.9 1762.9,808.8 1764.7,806.3 1766.4,807.7 1768.1,805.9 1769.9,807.9 1771.6,807.5 1773.4,809.0 1775.1,807.7 1776.8,807.6 1778.6,808.3 1780.3,808.3 1782.1,809.1 1783.8,807.7 1785.5,807.1 1787.3,807.1 1789.0,810.1 1790.8,807.6 1792.5,808.5 1794.2,807.9 1796.0,810.1 1797.7,808.6 1799.5,810.7 1801.2,808.6 1802.9,809.8 1804.7,810.3 1806.4,810.6 1808.2,808.4 1809.9,809.3 1811.6,809.7 1813.4,807.9 1815.1,810.7 1816.9,810.4 1818.6,810.6 1820.3,808.5 1822.1,810.3 1823.8,810.6 1825.6,811.3 1827.3,809.7 1829.0,811.0 1830.8,812.5 1832.5,809.9 1834.3,810.0 1836.0,810.1 1837.7,808.9 1839.5,810.1 1841.2,812.3 1843.0,809.6 1844.7,810.4 1846.4,811.9 1848.2,811.3 1849.9,810.9 1851.7,810.3 1853.4,810.6 1855.1,810.7 1856.9,811.5 1858.6,810.8 1860.4,811.8 1862.1,808.7 1863.8,811.6 1865.6,810.2 1867.3,810.7 1869.1,810.3 1870.8,811.4 1872.5,810.6 1874.3,811.3 1876.0,809.8 1877.8,810.8 1879.5,811.9 1881.2,811.8 1883.0,810.1 1884.7,810.7 1886.5,810.1 1888.2,810.3 1889.9,810.4 1891.7,811.6 1893.4,810.9 1895.2,811.8 1896.9,811.8 1898.6,808.7 1900.4,810.4 1902.1,809.5 1903.9,808.2 1905.6,808.7 1907.3,809.2 1909.1,811.5 1910.8,809.7 1912.6,809.3 1914.3,809.4 1916.0,808.5 1917.8,809.4 1919.5,809.0 1921.3,807.3" fill="none" stroke="#ff0000" stroke-width="7.6" stroke-linejoin="round"/>
<path d="M183.5,783.0L183.5,778.2M187.5,782.8L187.5,787.9M188.5,782.7L188.5,788.2M189.5,782.7L189.5,788.8M193.5,782.4L193.5,787.2M194.5,782.3L194.5,788.3M197.5,782.1L197.5,777.0M198.5,782.0L198.5,787.1M201.5,781.8L201.5,775.9M202.5,781.7L202.5,777.1M210.5,781.0L210.5,786.5M212.5,780.8L212.5,786.8M214.5,780.6L214.5,774.6M215.5,780.5L215.5,775.5M217.5,780.3L217.5,785.1M218.5,780.2L218.5,774.6M220.5,780.0L220.5,773.9M228.5,779.1L228.5,784.2M230.5,778.9L230.5,783.7M231.5,778.8L231.5,773.2M233.5,778.5L233.5,773.5M234.5,778.4L234.5,784.6M235.5,778.3L235.5,773.2M237.5,778.1L237.5,783.9M241.5,777.5L241.5,772.9M242.5,777.4L242.5,771.9M244.5,777.2L244.5,782.4M247.5,776.8L247.5,772.0M248.5,776.6L248.5,771.8M254.5,775.8L254.5,781.3M259.5,775.1L259.5,769.4M265.5,774.2L265.5,769.6M271.5,773.3L271.5,779.4M285.5,771.0L285.5,776.8M286.5,770.9L286.5,776.4M288.5,770.5L288.5,765.5M289.5,770.4L289.5,776.2M290.5,770.2L290.5,775.1M291.5,770.0L291.5,776.3M293.5,769.7L293.5,764.1M294.5,769.5L294.5,763.4M296.5,769.2L296.5,762.9M297.5,769.0L297.5,762.8M302.5,768.2L302.5,762.2M308.5,767.1L308.5,772.5M310.5,766.8L310.5,771.6M311.5,766.6L311.5,760.3M312.5,766.4L312.5,772.8M317.5,765.5L317.5,771.4M322.5,764.6L322.5,769.3M324.5,764.3L324.5,759.3M326.5,763.9L326.5,769.5M328.5,763.6L328.5,769.2M330.5,763.2L330.5,757.2M335.5,762.3L335.5,756.0M337.5,761.9L337.5,757.2M341.5,761.2L341.5,755.7M342.5,761.0L342.5,766.2M347.5,760.1L347.5,755.4M348.5,759.9L348.5,753.7M353.5,759.0L353.5,763.7M354.5,758.9L354.5,763.9M363.5,757.2L363.5,751.5M364.5,757.1L364.5,762.0M369.5,756.2L369.5,751.4M374.5,755.3L374.5,761.7M376.5,754.9L376.5,749.8M380.5,754.2L380.5,748.0M382.5,753.9L382.5,747.9M391.5,752.3L391.5,757.3M401.5,750.5L401.5,755.3M405.5,749.8L405.5,743.9M406.5,749.6L406.5,755.1M407.5,749.4L407.5,754.4M408.5,749.2L408.5,743.6M409.5,749.1L409.5,754.4M413.5,748.3L413.5,742.3M416.5,747.8L416.5,742.8M417.5,747.6L417.5,742.1M418.5,747.4L418.5,742.7M419.5,747.2L419.5,742.2M428.5,745.5L428.5,751.5M432.5,744.7L432.5,750.7M433.5,744.5L433.5,750.6M435.5,744.1L435.5,738.8M440.5,743.1L440.5,737.5M448.5,741.4L448.5,747.5M455.5,739.9L455.5,733.9M456.5,739.7L456.5,733.7M458.5,739.2L458.5,745.4M460.5,738.8L460.5,732.9M463.5,738.1L463.5,742.9M468.5,736.9L468.5,743.0M469.5,736.6L469.5,731.7M472.5,735.9L472.5,730.7M476.5,734.9L476.5,739.8M479.5,734.1L479.5,740.2M481.5,733.6L481.5,727.7M483.5,733.0L483.5,739.2M485.5,732.5L485.5,738.6M486.5,732.2L486.5,737.1M488.5,731.7L488.5,737.4M489.5,731.4L489.5,736.7M491.5,730.8L491.5,736.1M493.5,730.2L493.5,724.0M496.5,729.4L496.5,734.3M497.5,729.1L497.5,722.9M498.5,728.8L498.5,722.7M505.5,726.6L505.5,732.1M506.5,726.3L506.5,721.2M508.5,725.6L508.5,731.9M513.5,723.9L513.5,729.5M516.5,722.9L516.5,717.2M517.5,722.5L517.5,717.8M518.5,722.2L518.5,717.6M520.5,721.5L520.5,726.2M522.5,720.7L522.5,715.0M523.5,720.4L523.5,726.5M525.5,719.6L525.5,714.0M526.5,719.2L526.5,714.2M529.5,718.1L529.5,723.1M531.5,717.3L531.5,712.2M533.5,716.5L533.5,710.2M534.5,716.1L534.5,710.0M535.5,715.7L535.5,710.5M536.5,715.2L536.5,720.9M539.5,714.0L539.5,719.9M542.5,712.7L542.5,707.0M546.5,710.9L546.5,704.6M552.5,708.1L552.5,703.1M554.5,707.1L554.5,711.9M556.5,706.1L556.5,699.8M557.5,705.6L557.5,711.0M563.5,702.5L563.5,707.8M569.5,699.3L569.5,705.6M572.5,697.6L572.5,691.4M578.5,694.0L578.5,699.2M579.5,693.4L579.5,688.5M585.5,689.7L585.5,683.4M588.5,687.7L588.5,693.9M589.5,687.0L589.5,681.5M591.5,685.7L591.5,680.2M596.5,682.2L596.5,687.1M604.5,676.3L604.5,670.6M605.5,675.5L605.5,680.8M606.5,674.7L606.5,670.0M611.5,670.7L611.5,665.3M614.5,668.3L614.5,673.0M618.5,664.8L618.5,670.6M619.5,664.0L619.5,669.3M624.5,659.4L624.5,654.0M626.5,657.6L626.5,652.2M628.5,655.6L628.5,660.5M629.5,654.7L629.5,659.9M630.5,653.7L630.5,660.0M631.5,652.7L631.5,647.8M634.5,649.6L634.5,654.3M637.5,646.5L637.5,641.6M638.5,645.4L638.5,640.1M640.5,643.2L640.5,649.3M641.5,642.1L641.5,647.8M642.5,641.0L642.5,645.8M643.5,639.9L643.5,633.8M646.5,636.4L646.5,642.3M648.5,634.0L648.5,627.6M653.5,627.6L653.5,622.8M655.5,625.0L655.5,618.6M656.5,623.6L656.5,617.8M660.5,618.0L660.5,612.8M661.5,616.5L661.5,610.2M664.5,612.0L664.5,617.6M665.5,610.4L665.5,615.8M667.5,607.2L667.5,601.0M669.5,603.9L669.5,598.9M673.5,597.0L673.5,591.1M674.5,595.3L674.5,590.6M678.5,587.8L678.5,582.4M680.5,584.0L680.5,578.7M681.5,582.0L681.5,577.1M682.5,580.0L682.5,584.9M683.5,578.0L683.5,571.9M686.5,571.7L686.5,565.8M687.5,569.6L687.5,563.8M688.5,567.5L688.5,572.9M691.5,560.9L691.5,556.3M696.5,549.6L696.5,555.3M698.5,544.9L698.5,550.9M699.5,542.6L699.5,537.0M701.5,537.9L701.5,533.1M704.5,530.8L704.5,525.0M707.5,523.7L707.5,528.4M710.5,516.6L710.5,510.3M715.5,505.0L715.5,499.0M716.5,502.7L716.5,496.3M719.5,496.0L719.5,501.9M720.5,493.8L720.5,499.0M722.5,489.4L722.5,483.8M726.5,480.8L726.5,475.0M730.5,472.2L730.5,466.5M735.5,461.5L735.5,466.9M740.5,450.6L740.5,445.0M743.5,443.8L743.5,449.3M744.5,441.5L744.5,436.1M748.5,432.0L748.5,427.3M751.5,424.5L751.5,430.9M758.5,404.9L758.5,399.4M759.5,401.7L759.5,406.6M762.5,391.5L762.5,385.5M765.5,381.9L765.5,388.0M769.5,372.0L769.5,376.8M770.5,370.0L770.5,375.8M774.5,363.5L774.5,357.7M778.5,358.5L778.5,363.1M784.5,352.9L784.5,359.2M786.5,351.5L786.5,346.0M787.5,350.8L787.5,356.8M791.5,348.6L791.5,353.7M792.5,348.1L792.5,342.5M793.5,347.7L793.5,341.7M794.5,347.4L794.5,352.7M796.5,346.8L796.5,341.4M800.5,346.2L800.5,352.0M806.5,347.0L806.5,351.7M808.5,347.7L808.5,341.6M810.5,348.6L810.5,354.9M813.5,350.4L813.5,345.5M815.5,351.9L815.5,356.9M817.5,353.6L817.5,358.6M820.5,356.6L820.5,351.0M821.5,357.7L821.5,363.9M829.5,369.1L829.5,374.9M830.5,371.0L830.5,376.6M832.5,375.2L832.5,369.6M834.5,380.1L834.5,375.3M839.5,397.6L839.5,403.0M842.5,411.9L842.5,406.7M845.5,424.9L845.5,418.7M847.5,431.7L847.5,426.4M849.5,437.3L849.5,442.8M858.5,457.1L858.5,451.2M860.5,461.3L860.5,456.4M862.5,465.6L862.5,460.3M866.5,475.1L866.5,480.2M872.5,491.9L872.5,486.0M876.5,504.4L876.5,499.8M877.5,507.6L877.5,512.8M882.5,523.2L882.5,529.5M884.5,529.0L884.5,534.2M886.5,534.5L886.5,539.1M888.5,539.7L888.5,545.5M890.5,544.6L890.5,549.8M891.5,546.9L891.5,541.5M894.5,553.6L894.5,548.0M896.5,557.8L896.5,553.2M900.5,565.7L900.5,570.9M904.5,572.9L904.5,578.6M908.5,579.6L908.5,584.5M911.5,584.3L911.5,578.9M912.5,585.8L912.5,590.5M913.5,587.3L913.5,581.6M916.5,591.5L916.5,597.2M917.5,592.9L917.5,597.7M920.5,596.9L920.5,592.0M924.5,601.8L924.5,608.1M931.5,609.7L931.5,614.9M932.5,610.8L932.5,604.8M938.5,616.7L938.5,611.5M940.5,618.5L940.5,613.5M944.5,622.0L944.5,628.2M945.5,622.8L945.5,629.1M947.5,624.4L947.5,630.5M951.5,627.4L951.5,621.9M961.5,634.0L961.5,627.9M962.5,634.5L962.5,628.5M966.5,636.7L966.5,631.5M967.5,637.2L967.5,642.3M969.5,638.2L969.5,644.5M970.5,638.7L970.5,644.3M973.5,640.1L973.5,633.7M977.5,641.7L977.5,636.8M979.5,642.5L979.5,648.7M980.5,642.8L980.5,648.9M988.5,645.3L988.5,639.7M989.5,645.6L989.5,639.7M992.5,646.3L992.5,641.4M993.5,646.5L993.5,651.1M995.5,646.9L995.5,652.9M998.5,647.5L998.5,642.3M1001.5,648.0L1001.5,641.6M1004.5,648.4L1004.5,642.2M1006.5,648.6L1006.5,654.5M1013.5,649.1L1013.5,654.6M1014.5,649.2L1014.5,655.3M1015.5,649.2L1015.5,655.1M1017.5,649.3L1017.5,654.5M1018.5,649.3L1018.5,655.2M1019.5,649.3L1019.5,654.0M1022.5,649.3L1022.5,644.3M1023.5,649.3L1023.5,644.6M1026.5,649.2L1026.5,643.2M1030.5,648.9L1030.5,654.4M1031.5,648.8L1031.5,654.1M1033.5,648.7L1033.5,642.9M1034.5,648.6L1034.5,653.8M1035.5,648.5L1035.5,654.8M1044.5,647.2L1044.5,653.0M1046.5,646.9L1046.5,640.8M1047.5,646.7L1047.5,641.5M1050.5,646.1L1050.5,640.0M1055.5,645.0L1055.5,651.0M1057.5,644.5L1057.5,639.1M1063.5,642.8L1063.5,636.7M1070.5,640.5L1070.5,646.4M1077.5,637.9L1077.5,633.1M1080.5,636.6L1080.5,641.3M1084.5,634.8L1084.5,629.3M1087.5,633.4L1087.5,639.8M1097.5,628.1L1097.5,622.3M1102.5,625.0L1102.5,630.2M1103.5,624.3L1103.5,630.6M1104.5,623.7L1104.5,628.5M1106.5,622.3L1106.5,616.6M1108.5,620.9L1108.5,615.7M1114.5,616.4L1114.5,610.9M1118.5,613.0L1118.5,619.3M1121.5,610.3L1121.5,604.7M1129.5,602.2L1129.5,596.5M1131.5,599.9L1131.5,604.6M1142.5,584.9L1142.5,578.8M1143.5,583.3L1143.5,589.3M1145.5,580.0L1145.5,585.0M1148.5,574.7L1148.5,580.7M1149.5,572.9L1149.5,577.6M1154.5,562.9L1154.5,569.1M1156.5,558.5L1156.5,553.2M1158.5,553.9L1158.5,549.0M1161.5,546.7L1161.5,552.0M1162.5,544.1L1162.5,538.1M1164.5,539.0L1164.5,545.1M1166.5,533.6L1166.5,539.3M1167.5,530.9L1167.5,536.7M1169.5,525.4L1169.5,530.3M1170.5,522.6L1170.5,517.2M1171.5,519.7L1171.5,524.9M1173.5,514.1L1173.5,519.0M1174.5,511.3L1174.5,517.1M1177.5,502.9L1177.5,507.7M1179.5,497.5L1179.5,503.9M1183.5,486.9L1183.5,480.7M1185.5,481.7L1185.5,477.1M1188.5,473.8L1188.5,469.0M1190.5,468.4L1190.5,462.3M1191.5,465.7L1191.5,459.8M1197.5,449.0L1197.5,443.4M1201.5,438.1L1201.5,433.0M1202.5,435.4L1202.5,441.7M1205.5,427.6L1205.5,422.3M1207.5,423.2L1207.5,428.8M1210.5,418.5L1210.5,424.2M1211.5,417.5L1211.5,423.0M1213.5,416.3L1213.5,410.6M1214.5,416.0L1214.5,421.9M1215.5,416.0L1215.5,411.1M1217.5,416.5L1217.5,411.6M1218.5,416.9L1218.5,422.2M1221.5,418.9L1221.5,424.9M1223.5,420.7L1223.5,414.9M1230.5,428.7L1230.5,433.9M1234.5,434.0L1234.5,438.8M1236.5,436.6L1236.5,431.1M1238.5,439.4L1238.5,445.0M1241.5,443.6L1241.5,448.8M1243.5,446.6L1243.5,452.3M1247.5,453.0L1247.5,459.2M1248.5,454.8L1248.5,449.0M1249.5,456.6L1249.5,461.8M1252.5,462.6L1252.5,456.6M1256.5,472.2L1256.5,466.3M1257.5,475.0L1257.5,469.9M1258.5,478.0L1258.5,483.1M1261.5,488.3L1261.5,483.2M1262.5,492.3L1262.5,487.1M1265.5,505.8L1265.5,500.7M1272.5,544.2L1272.5,549.4M1276.5,567.6L1276.5,561.3M1282.5,600.0L1282.5,605.5M1283.5,605.2L1283.5,611.1M1285.5,615.6L1285.5,620.9M1294.5,668.7L1294.5,673.7M1301.5,706.0L1301.5,700.2M1303.5,713.0L1303.5,718.2M1305.5,718.9L1305.5,714.2M1307.5,723.9L1307.5,717.6M1315.5,738.3L1315.5,733.2M1319.5,743.3L1319.5,749.7M1321.5,745.5L1321.5,751.5M1322.5,746.6L1322.5,740.4M1327.5,751.2L1327.5,756.1M1329.5,752.8L1329.5,758.7M1334.5,756.5L1334.5,750.8M1337.5,758.5L1337.5,753.7M1342.5,761.4L1342.5,766.8M1343.5,762.0L1343.5,767.1M1344.5,762.5L1344.5,757.2M1347.5,764.0L1347.5,758.9M1348.5,764.5L1348.5,769.3M1350.5,765.4L1350.5,771.5M1351.5,765.9L1351.5,771.2M1352.5,766.3L1352.5,771.7M1356.5,768.0L1356.5,763.3M1358.5,768.8L1358.5,763.4M1361.5,769.9L1361.5,764.9M1362.5,770.2L1362.5,765.4M1366.5,771.6L1366.5,777.0M1369.5,772.6L1369.5,767.5M1372.5,773.5L1372.5,767.2M1373.5,773.8L1373.5,779.2M1374.5,774.0L1374.5,779.9M1376.5,774.6L1376.5,769.9M1379.5,775.4L1379.5,781.4M1385.5,776.9L1385.5,770.6M1386.5,777.2L1386.5,783.3M1388.5,777.6L1388.5,782.4M1389.5,777.9L1389.5,783.2M1390.5,778.1L1390.5,771.8M1391.5,778.3L1391.5,772.6M1396.5,779.4L1396.5,784.8M1399.5,780.1L1399.5,786.2M1409.5,782.1L1409.5,777.1M1412.5,782.6L1412.5,788.5M1413.5,782.8L1413.5,789.2M1419.5,783.9L1419.5,778.8M1426.5,785.1L1426.5,779.0M1430.5,785.8L1430.5,790.8M1431.5,785.9L1431.5,791.6M1432.5,786.1L1432.5,791.4M1433.5,786.3L1433.5,780.6M1442.5,787.6L1442.5,781.6M1446.5,788.2L1446.5,782.6M1447.5,788.3L1447.5,794.5M1448.5,788.5L1448.5,782.2M1449.5,788.6L1449.5,793.3M1451.5,788.9L1451.5,782.5M1452.5,789.0L1452.5,784.0M1454.5,789.3L1454.5,784.0M1459.5,789.9L1459.5,784.2M1462.5,790.3L1462.5,784.6M1463.5,790.4L1463.5,785.8M1468.5,791.0L1468.5,796.8M1470.5,791.2L1470.5,785.5M1471.5,791.4L1471.5,785.5M1477.5,792.0L1477.5,787.0M1478.5,792.1L1478.5,798.4M1482.5,792.5L1482.5,797.7M1483.5,792.6L1483.5,799.0M1484.5,792.7L1484.5,797.9M1487.5,793.0L1487.5,797.9M1491.5,793.4L1491.5,798.3M1492.5,793.5L1492.5,787.4M1496.5,793.8L1496.5,787.7M1497.5,793.9L1497.5,788.8M1500.5,794.2L1500.5,800.2M1503.5,794.4L1503.5,799.8M1506.5,794.7L1506.5,789.5M1510.5,795.0L1510.5,788.8M1511.5,795.1L1511.5,789.4M1512.5,795.1L1512.5,789.6M1515.5,795.4L1515.5,800.4M1517.5,795.5L1517.5,790.5M1518.5,795.6L1518.5,800.9M1523.5,795.9L1523.5,801.8M1525.5,796.0L1525.5,801.0M1528.5,796.2L1528.5,791.3M1529.5,796.3L1529.5,802.4M1535.5,796.7L1535.5,791.2M1540.5,797.0L1540.5,802.8M1543.5,797.1L1543.5,802.0M1545.5,797.2L1545.5,802.8M1546.5,797.3L1546.5,791.6M1547.5,797.3L1547.5,791.8M1550.5,797.5L1550.5,791.7M1552.5,797.6L1552.5,803.9M1553.5,797.6L1553.5,792.7M1554.5,797.7L1554.5,793.0M1556.5,797.8L1556.5,791.7M1557.5,797.8L1557.5,803.6M1558.5,797.9L1558.5,792.4M1559.5,797.9L1559.5,793.2M1560.5,798.0L1560.5,802.7M1564.5,798.2L1564.5,804.0M1565.5,798.2L1565.5,804.2M1567.5,798.3L1567.5,804.2M1569.5,798.4L1569.5,792.5M1570.5,798.4L1570.5,803.9M1575.5,798.6L1575.5,803.8M1576.5,798.7L1576.5,793.6M1578.5,798.8L1578.5,794.1M1587.5,799.1L1587.5,793.1M1591.5,799.3L1591.5,794.2M1592.5,799.3L1592.5,804.7M1593.5,799.4L1593.5,804.2M1594.5,799.4L1594.5,804.1M1595.5,799.4L1595.5,805.0M1599.5,799.6L1599.5,804.6M1600.5,799.6L1600.5,794.7M1606.5,799.8L1606.5,795.0M1607.5,799.9L1607.5,804.7M1609.5,800.0L1609.5,805.9M1613.5,800.1L1613.5,795.4M1620.5,800.4L1620.5,806.7M1621.5,800.4L1621.5,795.4M1627.5,800.6L1627.5,794.4M1632.5,800.8L1632.5,806.0M1633.5,800.8L1633.5,795.0M1638.5,801.0L1638.5,795.3M1640.5,801.1L1640.5,807.2M1644.5,801.3L1644.5,806.2M1651.5,801.6L1651.5,807.4M1656.5,801.8L1656.5,807.7M1657.5,801.8L1657.5,795.6M1659.5,801.9L1659.5,797.1M1663.5,802.1L1663.5,806.9M1664.5,802.1L1664.5,808.4M1667.5,802.3L1667.5,807.5M1668.5,802.3L1668.5,807.8M1669.5,802.4L1669.5,808.3M1671.5,802.5L1671.5,797.6M1675.5,802.7L1675.5,797.0M1676.5,802.7L1676.5,809.1M1677.5,802.8L1677.5,797.4M1680.5,802.9L1680.5,798.0M1682.5,803.0L1682.5,808.2M1683.5,803.1L1683.5,797.8M1686.5,803.2L1686.5,798.6M1692.5,803.6L1692.5,797.3M1696.5,803.8L1696.5,809.6M1697.5,803.8L1697.5,798.7M1698.5,803.9L1698.5,809.0M1699.5,804.0L1699.5,808.7M1700.5,804.0L1700.5,799.2M1711.5,804.6L1711.5,809.4M1712.5,804.7L1712.5,798.4M1719.5,805.1L1719.5,809.8M1722.5,805.3L1722.5,810.7M1724.5,805.4L1724.5,800.0M1727.5,805.6L1727.5,811.8M1730.5,805.7L1730.5,800.0M1735.5,806.0L1735.5,800.5M1747.5,806.7L1747.5,812.9M1753.5,807.1L1753.5,812.7M1754.5,807.1L1754.5,813.1M1755.5,807.2L1755.5,812.6M1758.5,807.3L1758.5,813.0M1759.5,807.4L1759.5,812.4M1760.5,807.4L1760.5,812.7M1765.5,807.7L1765.5,813.2M1767.5,807.8L1767.5,802.0M1771.5,808.0L1771.5,812.9M1776.5,808.3L1776.5,814.2M1780.5,808.5L1780.5,802.6M1781.5,808.5L1781.5,802.9M1784.5,808.7L1784.5,814.1M1785.5,808.7L1785.5,803.7M1787.5,808.8L1787.5,814.3M1800.5,809.4L1800.5,803.1M1801.5,809.4L1801.5,815.2M1804.5,809.5L1804.5,803.3M1806.5,809.6L1806.5,804.1M1807.5,809.6L1807.5,815.1M1811.5,809.8L1811.5,804.5M1813.5,809.9L1813.5,804.6M1815.5,809.9L1815.5,803.8M1816.5,810.0L1816.5,804.4M1817.5,810.0L1817.5,815.8M1818.5,810.0L1818.5,815.7M1819.5,810.0L1819.5,816.2M1820.5,810.1L1820.5,816.0M1830.5,810.3L1830.5,816.3M1835.5,810.5L1835.5,805.4M1836.5,810.5L1836.5,816.8M1839.5,810.5L1839.5,805.3M1841.5,810.6L1841.5,815.9M1843.5,810.6L1843.5,815.7M1844.5,810.6L1844.5,815.7M1848.5,810.7L1848.5,805.9M1852.5,810.7L1852.5,804.6M1853.5,810.7L1853.5,806.1M1856.5,810.7L1856.5,815.7M1858.5,810.7L1858.5,805.3M1859.5,810.7L1859.5,815.4M1866.5,810.7L1866.5,817.1M1868.5,810.7L1868.5,815.8M1874.5,810.7L1874.5,815.9M1875.5,810.7L1875.5,805.0M1877.5,810.6L1877.5,815.3M1881.5,810.6L1881.5,815.3M1886.5,810.5L1886.5,816.4M1890.5,810.4L1890.5,804.3M1894.5,810.2L1894.5,815.7M1896.5,810.2L1896.5,814.9M1897.5,810.1L1897.5,804.4M1900.5,810.0L1900.5,816.3M1904.5,809.9L1904.5,815.8M1910.5,809.6L1910.5,814.8M1911.5,809.6L1911.5,804.6M1912.5,809.5L1912.5,804.4M1917.5,809.2L1917.5,814.9M1918.5,809.2L1918.5,803.5" fill="none" stroke="#ff0000" stroke-width="1.6"/>
<path d="M183.0,553.8 184.7,556.3 186.5,557.9 188.2,558.0 190.0,557.4 191.7,557.2 193.4,555.1 195.2,557.6 196.9,558.0 198.7,556.4 200.4,556.5 202.1,555.7 203.9,556.0 205.6,555.4 207.4,556.3 209.1,555.5 210.8,553.9 212.6,554.8 214.3,555.9 216.1,555.6 217.8,556.8 219.5,556.2 221.3,556.5 223.0,554.9 224.8,556.0 226.5,553.9 228.2,553.8 230.0,555.4 231.7,554.5 233.5,553.2 235.2,555.0 236.9,555.4 238.7,554.5 240.4,554.9 242.2,554.3 243.9,554.1 245.6,552.0 247.4,550.6 249.1,552.1 250.9,548.7 252.6,551.5 254.3,550.7 256.1,551.8 257.8,550.7 259.6,551.2 261.3,550.0 263.0,550.5 264.8,552.2 266.5,549.2 268.3,548.2 270.0,551.4 271.7,550.5 273.5,549.3 275.2,548.7 277.0,549.2 278.7,548.2 280.4,549.4 282.2,547.8 283.9,547.1 285.7,548.2 287.4,546.4 289.1,547.6 290.9,545.5 292.6,545.9 294.4,546.4 296.1,545.2 297.8,546.8 299.6,545.3 301.3,545.3 303.1,542.7 304.8,545.2 306.5,544.4 308.3,541.8 310.0,544.0 311.8,543.8 313.5,542.4 315.2,541.7 317.0,541.0 318.7,542.4 320.5,542.1 322.2,541.5 323.9,543.7 325.7,541.2 327.4,541.1 329.2,538.9 330.9,540.7 332.6,541.2 334.4,538.9 336.1,541.9 337.9,538.7 339.6,539.2 341.3,538.4 343.1,538.1 344.8,535.1 346.6,539.0 348.3,535.4 350.0,538.9 351.8,536.1 353.5,536.5 355.3,539.6 357.0,535.5 358.7,536.1 360.5,534.7 362.2,535.7 364.0,536.1 365.7,537.2 367.4,532.3 369.2,534.9 370.9,535.5 372.7,535.6 374.4,533.5 376.1,534.3 377.9,536.1 379.6,534.2 381.4,536.0 383.1,532.1 384.8,532.5 386.6,533.1 388.3,531.8 390.1,533.5 391.8,531.3 393.5,532.8 395.3,530.6 397.0,531.1 398.8,532.2 400.5,532.4 402.2,530.5 404.0,529.8 405.7,531.9 407.5,530.0 409.2,531.4 410.9,532.3 412.7,531.4 414.4,528.8 416.2,531.7 417.9,531.4 419.6,529.4 421.4,529.4 423.1,531.3 424.9,530.0 426.6,529.9 428.3,530.5 430.1,529.8 431.8,532.1 433.6,530.4 435.3,528.9 437.0,528.7 438.8,528.1 440.5,529.6 442.3,526.8 444.0,528.9 445.7,527.1 447.5,525.6 449.2,528.5 451.0,527.7 452.7,527.4 454.4,526.6 456.2,526.7 457.9,525.9 459.7,527.9 461.4,527.7 463.1,526.0 464.9,525.9 466.6,526.0 468.4,526.5 470.1,525.5 471.8,524.6 473.6,524.6 475.3,525.0 477.1,524.3 478.8,523.8 480.5,525.4 482.3,524.2 484.0,524.6 485.8,522.3 487.5,524.0 489.2,522.9 491.0,522.3 492.7,521.6 494.5,521.4 496.2,521.3 497.9,521.6 499.7,521.1 501.4,523.2 503.2,521.2 504.9,520.6 506.6,520.0 508.4,518.9 510.1,518.5 511.9,519.5 513.6,517.1 515.3,520.2 517.1,519.8 518.8,516.1 520.6,518.7 522.3,518.2 524.0,517.9 525.8,517.0 527.5,517.6 529.3,514.5 531.0,514.5 532.7,515.3 534.5,514.2 536.2,512.1 538.0,514.2 539.7,513.9 541.4,512.1 543.2,512.2 544.9,512.4 546.7,508.5 548.4,509.7 550.1,508.8 551.9,509.0 553.6,507.3 555.4,506.7 557.1,507.7 558.8,508.9 560.6,504.9 562.3,507.4 564.1,506.1 565.8,505.5 567.5,505.2 569.3,502.6 571.0,503.6 572.8,500.0 574.5,500.0 576.2,500.5 578.0,500.2 579.7,497.1 581.5,495.7 583.2,497.4 584.9,496.5 586.7,496.1 588.4,494.4 590.2,492.1 591.9,493.9 593.6,492.6 595.4,490.9 597.1,492.2 598.9,489.1 600.6,489.5 602.3,486.6 604.1,482.5 605.8,483.4 607.6,480.5 609.3,482.2 611.0,482.6 612.8,478.3 614.5,479.8 616.3,477.5 618.0,477.6 619.7,475.7 621.5,472.9 623.2,473.4 625.0,471.4 626.7,471.0 628.4,470.8 630.2,467.0 631.9,467.6 633.7,464.3 635.4,463.6 637.1,461.6 638.9,459.1 640.6,458.4 642.4,456.1 644.1,455.6 645.8,452.1 647.6,450.5 649.3,450.8 651.1,448.6 652.8,446.8 654.5,444.9 656.3,443.5 658.0,441.0 659.8,439.4 661.5,435.5 663.2,434.8 665.0,431.3 666.7,428.5 668.5,427.4 670.2,426.0 671.9,423.0 673.7,422.5 675.4,418.7 677.2,415.9 678.9,412.9 680.6,408.6 682.4,407.4 684.1,404.6 685.9,403.6 687.6,397.8 689.3,395.5 691.1,391.8 692.8,389.6 694.6,384.2 696.3,383.2 698.0,379.5 699.8,376.2 701.5,375.4 703.3,368.8 705.0,365.8 706.7,361.5 708.5,358.9 710.2,356.3 712.0,351.8 713.7,346.3 715.4,340.5 717.2,338.4 718.9,331.9 720.7,328.6 722.4,324.8 724.1,320.0 725.9,317.0 727.6,312.4 729.4,307.8 731.1,304.8 732.8,299.3 734.6,297.4 736.3,292.5 738.1,287.2 739.8,284.0 741.5,278.7 743.3,274.7 745.0,272.5 746.8,265.5 748.5,263.8 750.2,261.3 752.0,252.7 753.7,253.7 755.5,244.8 757.2,240.3 758.9,236.3 760.7,233.1 762.4,229.5 764.2,223.7 765.9,221.2 767.6,217.9 769.4,211.5 771.1,207.9 772.9,203.7 774.6,200.0 776.3,192.9 778.1,188.6 779.8,183.0 781.6,177.3 783.3,172.5 785.0,169.7 786.8,167.2 788.5,162.6 790.3,161.7 792.0,160.9 793.7,159.5 795.5,158.3 797.2,158.8 799.0,157.4 800.7,154.3 802.4,157.2 804.2,154.6 805.9,154.6 807.7,157.2 809.4,156.3 811.1,155.8 812.9,159.6 814.6,160.8 816.4,162.7 818.1,162.6 819.8,167.6 821.6,169.0 823.3,174.3 825.1,175.9 826.8,180.7 828.5,183.9 830.3,189.4 832.0,195.4 833.8,198.3 835.5,201.1 837.2,206.9 839.0,209.3 840.7,213.6 842.5,216.9 844.2,220.2 845.9,224.5 847.7,229.0 849.4,234.2 851.2,238.1 852.9,243.1 854.6,245.7 856.4,249.8 858.1,257.4 859.9,262.3 861.6,267.9 863.3,271.5 865.1,278.0 866.8,281.8 868.6,288.1 870.3,292.9 872.0,297.6 873.8,302.9 875.5,306.6 877.3,311.6 879.0,316.8 880.7,322.0 882.5,324.9 884.2,329.5 886.0,333.2 887.7,338.3 889.4,342.6 891.2,343.3 892.9,348.4 894.7,351.5 896.4,356.5 898.1,355.4 899.9,360.7 901.6,362.8 903.4,369.5 905.1,371.4 906.8,374.9 908.6,377.6 910.3,380.5 912.1,383.5 913.8,385.4 915.5,386.3 917.3,391.7 919.0,394.0 920.8,396.0 922.5,398.5 924.2,403.2 926.0,403.3 927.7,405.4 929.5,409.6 931.2,412.8 932.9,411.9 934.7,414.4 936.4,416.4 938.2,420.0 939.9,422.2 941.6,425.0 943.4,425.2 945.1,426.7 946.9,428.0 948.6,431.6 950.3,431.2 952.1,432.4 953.8,434.5 955.6,436.1 957.3,437.9 959.0,438.0 960.8,441.8 962.5,443.2 964.3,440.8 966.0,443.3 967.7,443.0 969.5,444.7 971.2,444.5 973.0,446.5 974.7,447.9 976.4,448.5 978.2,447.6 979.9,447.5 981.7,448.3 983.4,452.4 985.1,451.4 986.9,452.3 988.6,454.4 990.4,452.1 992.1,454.2 993.8,453.4 995.6,454.8 997.3,452.9 999.1,454.9 1000.8,455.6 1002.5,456.2 1004.3,454.7 1006.0,456.3 1007.8,457.9 1009.5,457.0 1011.2,458.3 1013.0,458.2 1014.7,457.9 1016.5,457.4 1018.2,458.0 1019.9,457.0 1021.7,458.9 1023.4,458.6 1025.2,459.6 1026.9,460.8 1028.6,459.2 1030.4,458.9 1032.1,458.4 1033.9,459.1 1035.6,459.6 1037.3,457.6 1039.1,456.4 1040.8,456.2 1042.6,458.6 1044.3,457.9 1046.0,457.7 1047.8,455.0 1049.5,456.0 1051.3,454.6 1053.0,454.8 1054.7,455.2 1056.5,454.7 1058.2,456.9 1060.0,453.3 1061.7,453.6 1063.4,453.0 1065.2,453.5 1066.9,453.8 1068.7,451.5 1070.4,450.0 1072.1,450.9 1073.9,451.2 1075.6,448.9 1077.4,450.6 1079.1,447.7 1080.8,447.4 1082.6,446.9 1084.3,448.8 1086.1,446.8 1087.8,445.5 1089.5,443.1 1091.3,442.1 1093.0,441.6 1094.8,443.3 1096.5,441.9 1098.2,439.6 1100.0,437.6 1101.7,435.3 1103.5,435.7 1105.2,435.6 1106.9,434.4 1108.7,433.0 1110.4,430.5 1112.2,430.5 1113.9,428.4 1115.6,428.1 1117.4,425.9 1119.1,425.0 1120.9,422.9 1122.6,420.3 1124.3,420.5 1126.1,416.3 1127.8,416.4 1129.6,413.2 1131.3,411.4 1133.0,410.1 1134.8,407.1 1136.5,404.3 1138.3,402.2 1140.0,399.6 1141.7,398.4 1143.5,396.2 1145.2,393.0 1147.0,388.6 1148.7,387.5 1150.4,385.3 1152.2,379.7 1153.9,376.5 1155.7,374.9 1157.4,369.7 1159.1,366.9 1160.9,360.8 1162.6,354.7 1164.4,351.1 1166.1,345.5 1167.8,339.9 1169.6,332.3 1171.3,326.2 1173.1,322.1 1174.8,312.2 1176.5,307.6 1178.3,297.6 1180.0,292.5 1181.8,286.4 1183.5,281.0 1185.2,274.5 1187.0,268.6 1188.7,264.6 1190.5,258.2 1192.2,252.3 1193.9,248.3 1195.7,246.0 1197.4,237.6 1199.2,227.3 1200.9,216.8 1202.6,209.0 1204.4,205.6 1206.1,203.9 1207.9,200.1 1209.6,197.8 1211.3,195.8 1213.1,194.6 1214.8,192.1 1216.6,193.7 1218.3,191.7 1220.0,193.4 1221.8,193.8 1223.5,192.2 1225.3,194.1 1227.0,195.1 1228.7,195.5 1230.5,196.6 1232.2,200.1 1234.0,201.4 1235.7,202.7 1237.4,204.6 1239.2,207.5 1240.9,211.0 1242.7,213.3 1244.4,214.6 1246.1,217.9 1247.9,221.2 1249.6,223.7 1251.4,227.3 1253.1,229.9 1254.8,233.9 1256.6,239.1 1258.3,243.3 1260.1,247.4 1261.8,255.1 1263.5,257.8 1265.3,264.6 1267.0,270.5 1268.8,276.7 1270.5,285.8 1272.2,294.8 1274.0,303.3 1275.7,314.6 1277.5,329.1 1279.2,338.0 1280.9,352.2 1282.7,366.4 1284.4,378.4 1286.2,389.2 1287.9,400.5 1289.6,411.0 1291.4,420.5 1293.1,430.0 1294.9,440.3 1296.6,447.1 1298.3,454.3 1300.1,463.0 1301.8,470.3 1303.6,475.3 1305.3,482.1 1307.0,487.3 1308.8,494.0 1310.5,499.1 1312.3,502.0 1314.0,507.3 1315.7,508.6 1317.5,511.8 1319.2,514.7 1321.0,517.5 1322.7,521.3 1324.4,520.3 1326.2,524.0 1327.9,525.3 1329.7,528.1 1331.4,526.9 1333.1,528.6 1334.9,533.1 1336.6,533.9 1338.4,535.0 1340.1,534.9 1341.8,537.3 1343.6,537.2 1345.3,537.0 1347.1,539.1 1348.8,539.9 1350.5,539.9 1352.3,541.3 1354.0,542.0 1355.8,544.1 1357.5,545.4 1359.2,546.3 1361.0,547.0 1362.7,545.3 1364.5,547.7 1366.2,548.6 1367.9,548.8 1369.7,547.9 1371.4,546.3 1373.2,550.2 1374.9,549.6 1376.6,552.0 1378.4,549.9 1380.1,552.6 1381.9,552.0 1383.6,551.4 1385.3,552.8 1387.1,553.5 1388.8,555.0 1390.6,555.3 1392.3,556.1 1394.0,555.9 1395.8,554.9 1397.5,555.3 1399.3,556.2 1401.0,555.9 1402.7,554.8 1404.5,554.6 1406.2,557.9 1408.0,557.4 1409.7,559.7 1411.4,557.2 1413.2,559.1 1414.9,558.3 1416.7,558.8 1418.4,558.5 1420.1,559.8 1421.9,559.3 1423.6,558.3 1425.4,558.9 1427.1,558.8 1428.8,559.3 1430.6,559.5 1432.3,558.9 1434.1,558.8 1435.8,559.5 1437.5,557.6 1439.3,560.0 1441.0,560.0 1442.8,556.3 1444.5,558.5 1446.2,559.7 1448.0,557.3 1449.7,560.2 1451.5,560.8 1453.2,560.3 1454.9,560.8 1456.7,559.6 1458.4,560.6 1460.2,560.5 1461.9,559.5 1463.6,559.7 1465.4,557.8 1467.1,558.1 1468.9,560.6 1470.6,560.6 1472.3,558.6 1474.1,557.7 1475.8,557.2 1477.6,560.6 1479.3,559.7 1481.0,561.4 1482.8,560.6 1484.5,561.4 1486.3,560.0 1488.0,558.5 1489.7,558.7 1491.5,560.2 1493.2,557.4 1495.0,559.6 1496.7,558.5 1498.4,560.3 1500.2,558.3 1501.9,558.1 1503.7,559.9 1505.4,555.3 1507.1,560.1 1508.9,559.2 1510.6,558.2 1512.4,559.7 1514.1,558.4 1515.8,559.7 1517.6,559.1 1519.3,559.9 1521.1,558.1 1522.8,558.5 1524.5,561.3 1526.3,559.7 1528.0,559.2 1529.8,558.5 1531.5,559.1 1533.2,560.0 1535.0,558.5 1536.7,559.9 1538.5,559.8 1540.2,558.1 1541.9,560.4 1543.7,561.8 1545.4,560.1 1547.2,560.5 1548.9,561.2 1550.6,560.4 1552.4,559.3 1554.1,561.4 1555.9,561.0 1557.6,561.0 1559.3,563.4 1561.1,562.2 1562.8,561.4 1564.6,561.6 1566.3,564.3 1568.0,563.6 1569.8,560.9 1571.5,563.7 1573.3,562.6 1575.0,562.7 1576.7,564.8 1578.5,564.5 1580.2,562.9 1582.0,564.0 1583.7,564.9 1585.4,564.2 1587.2,564.9 1588.9,563.9 1590.7,566.2 1592.4,566.5 1594.1,564.4 1595.9,563.7 1597.6,564.9 1599.4,566.5 1601.1,565.9 1602.8,565.8 1604.6,566.2 1606.3,564.5 1608.1,566.2 1609.8,566.3 1611.5,565.8 1613.3,567.5 1615.0,566.0 1616.8,566.2 1618.5,567.8 1620.2,567.9 1622.0,567.4 1623.7,567.7 1625.5,568.0 1627.2,568.0 1628.9,566.7 1630.7,568.8 1632.4,570.2 1634.2,568.6 1635.9,568.0 1637.6,569.7 1639.4,569.2 1641.1,567.8 1642.9,568.6 1644.6,568.2 1646.3,570.1 1648.1,567.6 1649.8,570.5 1651.6,568.5 1653.3,569.7 1655.0,569.0 1656.8,570.0 1658.5,571.0 1660.3,570.5 1662.0,568.5 1663.7,569.7 1665.5,570.2 1667.2,572.2 1669.0,569.7 1670.7,569.9 1672.4,569.6 1674.2,570.5 1675.9,571.4 1677.7,569.6 1679.4,572.4 1681.1,572.3 1682.9,571.9 1684.6,571.8 1686.4,573.9 1688.1,570.1 1689.8,570.8 1691.6,573.8 1693.3,570.2 1695.1,572.0 1696.8,571.5 1698.5,570.8 1700.3,570.8 1702.0,571.7 1703.8,572.3 1705.5,572.7 1707.2,572.9 1709.0,572.4 1710.7,572.4 1712.5,573.1 1714.2,571.8 1715.9,571.1 1717.7,573.6 1719.4,570.5 1721.2,573.4 1722.9,574.3 1724.6,571.6 1726.4,570.6 1728.1,572.2 1729.9,573.5 1731.6,572.2 1733.3,574.5 1735.1,574.1 1736.8,572.4 1738.6,574.4 1740.3,572.0 1742.0,573.2 1743.8,574.0 1745.5,575.3 1747.3,574.7 1749.0,575.6 1750.7,572.4 1752.5,577.6 1754.2,573.1 1756.0,574.5 1757.7,576.0 1759.4,574.8 1761.2,575.7 1762.9,573.0 1764.7,573.2 1766.4,574.0 1768.1,573.9 1769.9,574.7 1771.6,574.3 1773.4,573.4 1775.1,575.0 1776.8,573.2 1778.6,574.1 1780.3,575.2 1782.1,573.9 1783.8,575.0 1785.5,575.8 1787.3,576.7 1789.0,576.5 1790.8,576.1 1792.5,575.7 1794.2,573.8 1796.0,574.3 1797.7,574.3 1799.5,574.7 1801.2,575.2 1802.9,574.3 1804.7,575.0 1806.4,576.7 1808.2,575.0 1809.9,573.4 1811.6,575.2 1813.4,575.4 1815.1,575.2 1816.9,578.0 1818.6,576.7 1820.3,577.6 1822.1,575.0 1823.8,576.6 1825.6,576.0 1827.3,575.7 1829.0,574.9 1830.8,576.0 1832.5,573.7 1834.3,576.9 1836.0,578.9 1837.7,577.5 1839.5,573.5 1841.2,576.1 1843.0,575.0 1844.7,575.2 1846.4,575.6 1848.2,577.2 1849.9,576.7 1851.7,575.0 1853.4,576.5 1855.1,576.1 1856.9,578.2 1858.6,574.3 1860.4,575.8 1862.1,574.8 1863.8,575.9 1865.6,573.6 1867.3,574.8 1869.1,575.7 1870.8,575.2 1872.5,574.9 1874.3,575.7 1876.0,575.2 1877.8,574.8 1879.5,575.5 1881.2,575.8 1883.0,576.1 1884.7,573.8 1886.5,575.2 1888.2,577.0 1889.9,574.1 1891.7,575.8 1893.4,575.1 1895.2,576.8 1896.9,576.9 1898.6,575.8 1900.4,574.9 1902.1,573.7 1903.9,574.8 1905.6,574.4 1907.3,575.4 1909.1,577.0 1910.8,577.3 1912.6,575.5 1914.3,575.3 1916.0,575.0 1917.8,575.4 1919.5,574.8 1921.3,576.9" fill="none" stroke="#008000" stroke-width="7.6" stroke-linejoin="round"/>
<path d="M183.5,555.9L183.5,560.9M186.5,556.0L186.5,550.8M187.5,556.0L187.5,551.0M189.5,556.0L189.5,550.7M190.5,556.0L190.5,561.5M191.5,556.0L191.5,561.6M192.5,556.0L192.5,549.7M201.5,555.9L201.5,550.0M205.5,555.8L205.5,549.6M206.5,555.8L206.5,550.1M210.5,555.6L210.5,560.4M212.5,555.5L212.5,550.7M218.5,555.2L218.5,549.0M220.5,555.1L220.5,549.0M223.5,554.9L223.5,548.7M226.5,554.7L226.5,548.8M231.5,554.3L231.5,549.7M233.5,554.1L233.5,548.1M238.5,553.6L238.5,548.2M240.5,553.4L240.5,559.8M245.5,552.9L245.5,547.3M248.5,552.6L248.5,557.9M252.5,552.1L252.5,557.7M255.5,551.8L255.5,557.5M256.5,551.6L256.5,546.4M258.5,551.4L258.5,546.3M261.5,551.0L261.5,544.8M263.5,550.8L263.5,546.1M267.5,550.2L267.5,555.1M269.5,549.9L269.5,544.6M271.5,549.7L271.5,555.5M285.5,547.6L285.5,552.9M286.5,547.4L286.5,553.4M289.5,547.0L289.5,551.8M293.5,546.4L293.5,551.2M295.5,546.1L295.5,541.2M297.5,545.7L297.5,541.0M305.5,544.5L305.5,549.2M306.5,544.3L306.5,549.1M309.5,543.8L309.5,549.3M313.5,543.2L313.5,548.8M314.5,543.0L314.5,548.8M316.5,542.7L316.5,548.8M324.5,541.4L324.5,535.5M325.5,541.3L325.5,535.0M326.5,541.1L326.5,535.2M330.5,540.5L330.5,545.3M333.5,540.0L333.5,535.4M334.5,539.9L334.5,534.6M335.5,539.7L335.5,545.1M338.5,539.3L338.5,534.2M343.5,538.5L343.5,543.2M345.5,538.2L345.5,531.9M347.5,537.9L347.5,533.1M348.5,537.8L348.5,532.2M349.5,537.6L349.5,532.7M355.5,536.8L355.5,542.3M357.5,536.5L357.5,541.6M359.5,536.3L359.5,530.4M361.5,536.0L361.5,530.5M362.5,535.9L362.5,541.2M364.5,535.6L364.5,529.3M365.5,535.5L365.5,541.2M370.5,534.9L370.5,529.4M372.5,534.6L372.5,539.8M379.5,533.9L379.5,539.8M389.5,532.8L389.5,538.9M391.5,532.6L391.5,537.7M393.5,532.4L393.5,537.9M395.5,532.2L395.5,537.1M405.5,531.3L405.5,537.5M408.5,531.1L408.5,526.3M409.5,531.0L409.5,536.3M415.5,530.4L415.5,525.8M417.5,530.3L417.5,524.6M418.5,530.2L418.5,536.1M419.5,530.1L419.5,535.5M421.5,529.9L421.5,535.7M423.5,529.7L423.5,535.2M424.5,529.7L424.5,534.7M426.5,529.5L426.5,535.1M427.5,529.4L427.5,535.3M428.5,529.3L428.5,523.7M432.5,529.0L432.5,533.7M434.5,528.8L434.5,523.6M436.5,528.6L436.5,533.7M438.5,528.4L438.5,534.4M439.5,528.3L439.5,533.3M450.5,527.3L450.5,532.6M454.5,526.9L454.5,522.3M458.5,526.5L458.5,520.6M460.5,526.3L460.5,532.4M462.5,526.1L462.5,520.1M464.5,525.9L464.5,531.1M468.5,525.4L468.5,531.5M470.5,525.2L470.5,520.4M472.5,525.0L472.5,520.0M473.5,524.9L473.5,530.4M475.5,524.6L475.5,530.5M476.5,524.5L476.5,518.2M478.5,524.2L478.5,519.5M481.5,523.9L481.5,519.1M482.5,523.7L482.5,529.8M485.5,523.3L485.5,528.6M490.5,522.6L490.5,528.5M491.5,522.5L491.5,517.4M494.5,522.0L494.5,528.0M496.5,521.7L496.5,526.5M497.5,521.6L497.5,515.2M500.5,521.1L500.5,515.8M502.5,520.7L502.5,514.7M504.5,520.4L504.5,514.5M507.5,519.9L507.5,514.7M508.5,519.7L508.5,515.0M509.5,519.5L509.5,513.3M511.5,519.1L511.5,513.2M512.5,519.0L512.5,514.2M515.5,518.4L515.5,524.4M516.5,518.2L516.5,512.2M517.5,518.0L517.5,511.9M520.5,517.3L520.5,512.4M521.5,517.1L521.5,523.4M522.5,516.9L522.5,511.7M523.5,516.7L523.5,521.7M527.5,515.8L527.5,509.8M530.5,515.1L530.5,520.9M531.5,514.8L531.5,509.7M532.5,514.6L532.5,519.9M536.5,513.6L536.5,507.9M542.5,512.0L542.5,518.2M552.5,509.0L552.5,514.0M554.5,508.3L554.5,513.4M557.5,507.3L557.5,501.5M559.5,506.6L559.5,511.6M561.5,505.9L561.5,499.7M572.5,501.7L572.5,495.5M576.5,500.0L576.5,495.3M580.5,498.2L580.5,493.2M581.5,497.7L581.5,504.1M583.5,496.8L583.5,502.0M584.5,496.3L584.5,491.3M588.5,494.3L588.5,499.9M589.5,493.8L589.5,499.0M590.5,493.3L590.5,488.7M591.5,492.8L591.5,486.8M596.5,490.1L596.5,485.1M597.5,489.5L597.5,494.4M600.5,487.8L600.5,494.0M602.5,486.6L602.5,481.4M607.5,483.6L607.5,488.5M608.5,482.9L608.5,487.5M609.5,482.3L609.5,488.3M611.5,481.0L611.5,475.1M613.5,479.6L613.5,474.1M614.5,478.9L614.5,483.6M615.5,478.3L615.5,473.0M624.5,471.7L624.5,465.8M628.5,468.6L628.5,462.4M631.5,466.1L631.5,470.8M638.5,460.1L638.5,466.5M640.5,458.3L640.5,463.9M641.5,457.4L641.5,463.8M644.5,454.5L644.5,448.3M646.5,452.6L646.5,457.4M652.5,446.4L652.5,452.3M658.5,439.8L658.5,434.1M659.5,438.7L659.5,443.4M661.5,436.3L661.5,430.4M664.5,432.6L664.5,438.1M665.5,431.4L665.5,425.7M670.5,424.8L670.5,419.0M673.5,420.7L673.5,415.9M680.5,410.3L680.5,416.2M681.5,408.7L681.5,403.9M682.5,407.1L682.5,401.8M685.5,402.2L685.5,407.7M690.5,393.5L690.5,399.5M699.5,376.5L699.5,370.4M700.5,374.5L700.5,369.7M701.5,372.5L701.5,378.5M704.5,366.2L704.5,372.4M707.5,359.8L707.5,365.5M708.5,357.6L708.5,362.6M716.5,339.4L716.5,333.9M725.5,317.9L725.5,322.5M730.5,305.7L730.5,300.9M732.5,300.9L732.5,295.2M735.5,293.7L735.5,288.5M739.5,284.2L739.5,279.0M741.5,279.5L741.5,284.8M744.5,272.5L744.5,267.9M745.5,270.2L745.5,275.7M750.5,258.5L750.5,264.8M751.5,256.2L751.5,261.7M754.5,249.1L754.5,255.3M756.5,244.4L756.5,238.0M757.5,242.0L757.5,248.0M758.5,239.6L758.5,233.4M760.5,234.8L760.5,240.3M761.5,232.4L761.5,226.6M762.5,229.9L762.5,224.8M764.5,224.9L764.5,231.0M765.5,222.4L765.5,227.2M766.5,219.9L766.5,224.8M768.5,214.7L768.5,208.9M770.5,209.4L770.5,204.6M772.5,203.9L772.5,209.3M776.5,192.5L776.5,186.8M780.5,180.3L780.5,185.2M781.5,177.3L781.5,171.3M782.5,174.7L782.5,169.4M788.5,164.1L788.5,170.2M789.5,162.9L789.5,156.7M791.5,160.9L791.5,166.4M792.5,160.0L792.5,166.4M794.5,158.5L794.5,164.3M795.5,157.9L795.5,152.5M800.5,155.7L800.5,150.8M805.5,155.4L805.5,149.5M808.5,156.3L808.5,161.4M809.5,156.7L809.5,152.0M820.5,167.7L820.5,161.6M824.5,175.9L824.5,181.7M825.5,178.4L825.5,183.4M826.5,181.0L826.5,186.9M828.5,186.0L828.5,179.7M834.5,199.6L834.5,205.7M838.5,208.0L838.5,213.7M839.5,210.1L839.5,215.2M842.5,216.5L842.5,222.0M843.5,218.7L843.5,223.6M846.5,225.7L846.5,219.4M850.5,235.7L850.5,240.6M851.5,238.3L851.5,232.2M854.5,246.5L854.5,252.1M859.5,261.1L859.5,267.3M861.5,267.1L861.5,271.9M864.5,276.1L864.5,281.5M865.5,279.0L865.5,274.1M870.5,293.5L870.5,287.5M874.5,304.4L874.5,310.8M875.5,307.1L875.5,301.8M880.5,319.7L880.5,325.1M885.5,331.5L885.5,326.5M888.5,338.2L888.5,332.5M892.5,346.7L892.5,352.9M893.5,348.8L893.5,353.6M895.5,352.9L895.5,347.4M896.5,354.9L896.5,349.9M897.5,356.8L897.5,362.8M898.5,358.8L898.5,363.7M901.5,364.5L901.5,370.8M902.5,366.4L902.5,361.4M904.5,370.0L904.5,364.7M906.5,373.6L906.5,379.0M907.5,375.3L907.5,380.0M913.5,385.4L913.5,391.1M916.5,390.1L916.5,384.8M921.5,397.7L921.5,402.4M922.5,399.2L922.5,403.8M923.5,400.6L923.5,406.2M925.5,403.5L925.5,409.8M929.5,408.9L929.5,403.4M931.5,411.5L931.5,417.4M934.5,415.3L934.5,409.8M935.5,416.5L935.5,421.4M938.5,420.0L938.5,424.8M939.5,421.1L939.5,426.8M940.5,422.2L940.5,417.5M941.5,423.3L941.5,417.3M944.5,426.4L944.5,432.4M947.5,429.3L947.5,434.5M951.5,432.8L951.5,438.0M954.5,435.3L954.5,430.4M956.5,436.8L956.5,442.1M957.5,437.6L957.5,442.9M960.5,439.7L960.5,434.6M961.5,440.3L961.5,434.0M963.5,441.6L963.5,435.7M964.5,442.2L964.5,437.3M969.5,445.0L969.5,450.4M970.5,445.6L970.5,439.9M972.5,446.5L972.5,451.5M976.5,448.4L976.5,453.1M978.5,449.2L978.5,454.9M979.5,449.6L979.5,444.2M983.5,451.1L983.5,456.4M984.5,451.4L984.5,456.4M989.5,453.0L989.5,459.2M990.5,453.3L990.5,458.3M992.5,453.8L992.5,459.3M998.5,455.2L998.5,449.5M999.5,455.5L999.5,461.6M1001.5,455.8L1001.5,460.7M1003.5,456.2L1003.5,451.2M1005.5,456.5L1005.5,451.6M1018.5,458.0L1018.5,464.1M1020.5,458.1L1020.5,463.5M1028.5,458.2L1028.5,463.2M1032.5,458.2L1032.5,464.5M1034.5,458.1L1034.5,463.7M1039.5,457.8L1039.5,453.0M1040.5,457.7L1040.5,451.9M1045.5,457.2L1045.5,463.2M1046.5,457.1L1046.5,451.9M1047.5,456.9L1047.5,451.2M1050.5,456.5L1050.5,451.4M1051.5,456.3L1051.5,462.5M1056.5,455.4L1056.5,461.4M1061.5,454.3L1061.5,459.4M1067.5,452.8L1067.5,458.7M1070.5,451.9L1070.5,446.4M1071.5,451.5L1071.5,457.0M1074.5,450.5L1074.5,445.6M1075.5,450.2L1075.5,445.0M1076.5,449.8L1076.5,444.4M1078.5,449.1L1078.5,444.1M1080.5,448.3L1080.5,442.9M1081.5,447.9L1081.5,454.0M1084.5,446.6L1084.5,441.8M1085.5,446.1L1085.5,440.5M1086.5,445.7L1086.5,450.5M1088.5,444.7L1088.5,449.9M1091.5,443.2L1091.5,449.0M1094.5,441.6L1094.5,436.6M1095.5,441.0L1095.5,435.2M1099.5,438.7L1099.5,432.5M1101.5,437.5L1101.5,442.3M1103.5,436.2L1103.5,431.1M1110.5,431.2L1110.5,435.9M1113.5,428.9L1113.5,434.6M1115.5,427.2L1115.5,432.4M1116.5,426.4L1116.5,432.0M1117.5,425.5L1117.5,420.2M1119.5,423.8L1119.5,428.9M1121.5,421.9L1121.5,415.6M1123.5,420.0L1123.5,414.0M1124.5,419.0L1124.5,424.4M1126.5,417.0L1126.5,411.1M1130.5,412.7L1130.5,417.6M1133.5,409.2L1133.5,403.5M1134.5,408.0L1134.5,413.8M1135.5,406.8L1135.5,411.7M1144.5,394.2L1144.5,389.1M1147.5,389.4L1147.5,383.4M1151.5,382.3L1151.5,377.2M1152.5,380.4L1152.5,375.6M1155.5,374.2L1155.5,368.0M1157.5,369.7L1157.5,375.0M1158.5,367.3L1158.5,361.7M1160.5,362.2L1160.5,368.2M1163.5,353.7L1163.5,347.8M1164.5,350.7L1164.5,345.5M1169.5,333.6L1169.5,327.8M1170.5,329.8L1170.5,324.3M1173.5,318.0L1173.5,323.2M1175.5,310.0L1175.5,304.4M1176.5,305.9L1176.5,299.7M1181.5,286.9L1181.5,292.1M1184.5,276.8L1184.5,271.7M1188.5,265.1L1188.5,260.2M1204.5,206.4L1204.5,211.8M1206.5,203.0L1206.5,197.8M1208.5,200.2L1208.5,205.5M1209.5,199.0L1209.5,204.5M1210.5,197.9L1210.5,191.6M1211.5,196.9L1211.5,201.6M1214.5,194.4L1214.5,200.8M1216.5,193.2L1216.5,187.7M1217.5,192.8L1217.5,186.9M1218.5,192.4L1218.5,187.3M1222.5,192.0L1222.5,196.7M1223.5,192.2L1223.5,186.3M1224.5,192.6L1224.5,197.3M1227.5,194.3L1227.5,199.8M1228.5,195.0L1228.5,189.5M1232.5,199.0L1232.5,205.3M1236.5,203.9L1236.5,210.0M1237.5,205.2L1237.5,210.3M1241.5,210.8L1241.5,204.9M1243.5,213.8L1243.5,208.5M1246.5,218.6L1246.5,212.4M1249.5,223.9L1249.5,229.8M1250.5,225.8L1250.5,220.1M1253.5,231.8L1253.5,237.9M1260.5,248.9L1260.5,253.7M1265.5,264.6L1265.5,259.6M1267.5,272.1L1267.5,266.3M1271.5,289.8L1271.5,284.8M1277.5,326.3L1277.5,331.7M1280.5,349.0L1280.5,343.1M1282.5,364.4L1282.5,370.2M1284.5,379.0L1284.5,384.8M1285.5,385.8L1285.5,391.2M1294.5,436.8L1294.5,430.6M1305.5,483.5L1305.5,477.8M1309.5,495.6L1309.5,490.5M1310.5,498.1L1310.5,492.0M1312.5,502.8L1312.5,496.8M1316.5,510.5L1316.5,516.4M1321.5,517.9L1321.5,512.7M1322.5,519.2L1322.5,514.4M1323.5,520.4L1323.5,515.6M1326.5,523.7L1326.5,518.4M1328.5,525.7L1328.5,531.7M1335.5,531.7L1335.5,526.3M1337.5,533.2L1337.5,537.9M1346.5,538.9L1346.5,544.2M1349.5,540.5L1349.5,535.0M1351.5,541.5L1351.5,535.2M1354.5,543.0L1354.5,547.9M1355.5,543.4L1355.5,537.6M1361.5,546.0L1361.5,540.1M1362.5,546.3L1362.5,551.2M1368.5,548.5L1368.5,542.4M1373.5,550.1L1373.5,555.7M1375.5,550.7L1375.5,555.6M1377.5,551.3L1377.5,545.5M1379.5,551.8L1379.5,545.8M1380.5,552.1L1380.5,545.9M1387.5,553.8L1387.5,559.1M1388.5,554.0L1388.5,559.3M1393.5,555.0L1393.5,561.0M1395.5,555.4L1395.5,549.1M1396.5,555.5L1396.5,550.0M1399.5,556.1L1399.5,549.9M1400.5,556.2L1400.5,550.0M1401.5,556.4L1401.5,562.7M1406.5,557.1L1406.5,551.9M1410.5,557.6L1410.5,563.1M1411.5,557.7L1411.5,552.8M1416.5,558.2L1416.5,563.6M1418.5,558.4L1418.5,563.4M1419.5,558.5L1419.5,552.6M1420.5,558.6L1420.5,552.2M1422.5,558.8L1422.5,552.9M1423.5,558.8L1423.5,553.5M1426.5,559.0L1426.5,564.4M1427.5,559.1L1427.5,552.8M1428.5,559.1L1428.5,565.1M1429.5,559.2L1429.5,554.5M1430.5,559.3L1430.5,553.2M1431.5,559.3L1431.5,553.1M1432.5,559.3L1432.5,554.2M1433.5,559.4L1433.5,553.2M1434.5,559.4L1434.5,554.6M1446.5,559.7L1446.5,554.8M1453.5,559.7L1453.5,565.6M1455.5,559.7L1455.5,565.6M1457.5,559.7L1457.5,554.6M1462.5,559.6L1462.5,565.0M1464.5,559.6L1464.5,564.9M1469.5,559.5L1469.5,554.1M1471.5,559.5L1471.5,553.7M1473.5,559.4L1473.5,553.8M1474.5,559.4L1474.5,565.0M1481.5,559.2L1481.5,564.6M1484.5,559.2L1484.5,554.1M1485.5,559.1L1485.5,565.1M1486.5,559.1L1486.5,553.5M1489.5,559.1L1489.5,565.3M1492.5,559.0L1492.5,565.4M1500.5,558.9L1500.5,552.6M1502.5,558.9L1502.5,564.6M1503.5,558.9L1503.5,564.1M1508.5,558.9L1508.5,565.0M1509.5,558.9L1509.5,553.3M1516.5,559.0L1516.5,553.6M1522.5,559.2L1522.5,564.7M1528.5,559.5L1528.5,553.4M1529.5,559.5L1529.5,553.4M1530.5,559.6L1530.5,554.4M1531.5,559.6L1531.5,564.9M1533.5,559.8L1533.5,565.4M1535.5,559.9L1535.5,566.0M1537.5,560.0L1537.5,553.7M1540.5,560.2L1540.5,565.6M1542.5,560.4L1542.5,555.7M1543.5,560.5L1543.5,555.6M1544.5,560.6L1544.5,554.6M1545.5,560.6L1545.5,565.5M1549.5,561.0L1549.5,556.2M1552.5,561.2L1552.5,565.9M1553.5,561.3L1553.5,566.7M1554.5,561.4L1554.5,556.4M1561.5,562.1L1561.5,557.0M1564.5,562.4L1564.5,556.0M1568.5,562.7L1568.5,557.8M1571.5,563.0L1571.5,569.2M1572.5,563.1L1572.5,568.8M1576.5,563.5L1576.5,568.5M1577.5,563.6L1577.5,557.9M1578.5,563.7L1578.5,569.5M1579.5,563.8L1579.5,570.1M1588.5,564.6L1588.5,559.6M1594.5,565.1L1594.5,570.3M1597.5,565.4L1597.5,571.3M1601.5,565.7L1601.5,559.8M1602.5,565.8L1602.5,560.1M1603.5,565.9L1603.5,559.6M1604.5,566.0L1604.5,560.2M1605.5,566.0L1605.5,571.3M1610.5,566.4L1610.5,572.6M1611.5,566.5L1611.5,572.9M1614.5,566.7L1614.5,572.1M1621.5,567.3L1621.5,562.2M1622.5,567.3L1622.5,561.5M1623.5,567.4L1623.5,573.0M1629.5,567.8L1629.5,562.5M1631.5,568.0L1631.5,562.3M1632.5,568.0L1632.5,573.2M1642.5,568.7L1642.5,563.1M1644.5,568.8L1644.5,574.7M1645.5,568.9L1645.5,574.8M1646.5,568.9L1646.5,575.0M1657.5,569.6L1657.5,576.0M1659.5,569.7L1659.5,574.6M1660.5,569.8L1660.5,574.8M1662.5,569.9L1662.5,574.8M1664.5,570.0L1664.5,575.8M1668.5,570.2L1668.5,565.1M1671.5,570.4L1671.5,575.4M1673.5,570.5L1673.5,565.5M1674.5,570.6L1674.5,564.9M1675.5,570.6L1675.5,565.0M1681.5,570.9L1681.5,565.2M1686.5,571.2L1686.5,576.4M1687.5,571.3L1687.5,576.0M1692.5,571.5L1692.5,577.6M1693.5,571.5L1693.5,565.4M1695.5,571.6L1695.5,566.7M1696.5,571.7L1696.5,566.7M1700.5,571.9L1700.5,566.7M1702.5,572.0L1702.5,567.2M1703.5,572.0L1703.5,567.2M1706.5,572.2L1706.5,578.1M1709.5,572.3L1709.5,577.8M1710.5,572.4L1710.5,567.2M1715.5,572.6L1715.5,567.3M1719.5,572.8L1719.5,577.7M1720.5,572.8L1720.5,566.6M1722.5,572.9L1722.5,568.1M1723.5,572.9L1723.5,579.1M1724.5,573.0L1724.5,567.3M1728.5,573.1L1728.5,578.4M1729.5,573.2L1729.5,568.3M1730.5,573.2L1730.5,579.2M1736.5,573.5L1736.5,568.4M1737.5,573.5L1737.5,578.9M1743.5,573.7L1743.5,579.8M1747.5,573.9L1747.5,578.5M1748.5,573.9L1748.5,578.9M1751.5,574.0L1751.5,568.9M1752.5,574.0L1752.5,569.4M1755.5,574.1L1755.5,567.8M1757.5,574.2L1757.5,568.7M1760.5,574.3L1760.5,580.4M1761.5,574.3L1761.5,568.4M1766.5,574.5L1766.5,579.2M1767.5,574.5L1767.5,568.7M1768.5,574.6L1768.5,569.2M1770.5,574.6L1770.5,579.7M1775.5,574.8L1775.5,569.7M1776.5,574.8L1776.5,569.4M1781.5,574.9L1781.5,569.8M1784.5,575.0L1784.5,580.8M1785.5,575.0L1785.5,570.0M1787.5,575.1L1787.5,580.1M1789.5,575.1L1789.5,580.9M1790.5,575.2L1790.5,569.5M1797.5,575.3L1797.5,580.2M1801.5,575.4L1801.5,570.1M1803.5,575.4L1803.5,580.2M1811.5,575.6L1811.5,569.8M1825.5,575.8L1825.5,581.5M1828.5,575.8L1828.5,581.0M1830.5,575.8L1830.5,570.0M1832.5,575.8L1832.5,569.9M1833.5,575.8L1833.5,581.4M1836.5,575.9L1836.5,581.1M1837.5,575.9L1837.5,571.1M1838.5,575.9L1838.5,570.2M1841.5,575.9L1841.5,581.9M1843.5,575.9L1843.5,570.5M1844.5,575.9L1844.5,581.6M1853.5,575.9L1853.5,570.9M1857.5,575.9L1857.5,581.4M1858.5,575.9L1858.5,581.4M1861.5,575.9L1861.5,569.6M1863.5,575.9L1863.5,571.1M1865.5,575.9L1865.5,569.6M1872.5,575.9L1872.5,569.9M1879.5,575.8L1879.5,580.7M1880.5,575.8L1880.5,581.5M1882.5,575.8L1882.5,581.6M1883.5,575.8L1883.5,569.8M1885.5,575.7L1885.5,570.6M1890.5,575.7L1890.5,581.6M1895.5,575.6L1895.5,569.9M1896.5,575.6L1896.5,580.8M1898.5,575.5L1898.5,570.6M1899.5,575.5L1899.5,581.0M1903.5,575.4L1903.5,570.8M1906.5,575.4L1906.5,569.9M1908.5,575.3L1908.5,570.1M1914.5,575.2L1914.5,569.4M1915.5,575.2L1915.5,580.0M1916.5,575.1L1916.5,570.4M1917.5,575.1L1917.5,579.8" fill="none" stroke="#008000" stroke-width="1.6"/>
<rect x="183" y="36" width="1739" height="1283" fill="none" stroke="#000" stroke-width="5.6"/>
<line x1="269.9" y1="1319" x2="269.9" y2="1347.5" stroke="#000" stroke-width="5.6"/>
<line x1="530.8" y1="1319" x2="530.8" y2="1347.5" stroke="#000" stroke-width="5.6"/>
<line x1="791.6" y1="1319" x2="791.6" y2="1347.5" stroke="#000" stroke-width="5.6"/>
<line x1="1052.5" y1="1319" x2="1052.5" y2="1347.5" stroke="#000" stroke-width="5.6"/>
<line x1="1313.3" y1="1319" x2="1313.3" y2="1347.5" stroke="#000" stroke-width="5.6"/>
<line x1="1574.2" y1="1319" x2="1574.2" y2="1347.5" stroke="#000" stroke-width="5.6"/>
<line x1="1835.0" y1="1319" x2="1835.0" y2="1347.5" stroke="#000" stroke-width="5.6"/>
<line x1="400.4" y1="1319" x2="400.4" y2="1336.5" stroke="#000" stroke-width="5.6"/>
<line x1="661.2" y1="1319" x2="661.2" y2="1336.5" stroke="#000" stroke-width="5.6"/>
<line x1="922.1" y1="1319" x2="922.1" y2="1336.5" stroke="#000" stroke-width="5.6"/>
<line x1="1182.9" y1="1319" x2="1182.9" y2="1336.5" stroke="#000" stroke-width="5.6"/>
<line x1="1443.8" y1="1319" x2="1443.8" y2="1336.5" stroke="#000" stroke-width="5.6"/>
<line x1="1704.6" y1="1319" x2="1704.6" y2="1336.5" stroke="#000" stroke-width="5.6"/>
<text x="269.9" y="1425" text-anchor="middle" class="t">1050</text>
<text x="530.8" y="1425" text-anchor="middle" class="t">1200</text>
<text x="791.6" y="1425" text-anchor="middle" class="t">1350</text>
<text x="1052.5" y="1425" text-anchor="middle" class="t">1500</text>
<text x="1313.3" y="1425" text-anchor="middle" class="t">1650</text>
<text x="1574.2" y="1425" text-anchor="middle" class="t">1800</text>
<text x="1835.0" y="1425" text-anchor="middle" class="t">1950</text>
<text class="t" x="681" y="1521">Wavenumber (cm<tspan font-size="50" dy="-46">-1</tspan><tspan dy="46">)</tspan></text>
<text class="t" transform="translate(129,1284.5) rotate(-90)" x="0" y="0">Normalized intensity (arb.units)</text>
<text class="t" x="772.5" y="123" style="font-size:85px">D</text>
<text class="t" x="1190.5" y="146">G</text>
<text class="t" x="1391" y="529" fill="#008000">Pristine GQD</text>
<text class="t" x="1576" y="763" fill="#ff0000">Pd-GQD</text>
<text class="t" x="1568" y="970" fill="#0500f5">Pd-GO</text>
<text class="t" x="1576" y="1230" fill="#000">Pd-CNT</text>

</svg>
</body></html>
